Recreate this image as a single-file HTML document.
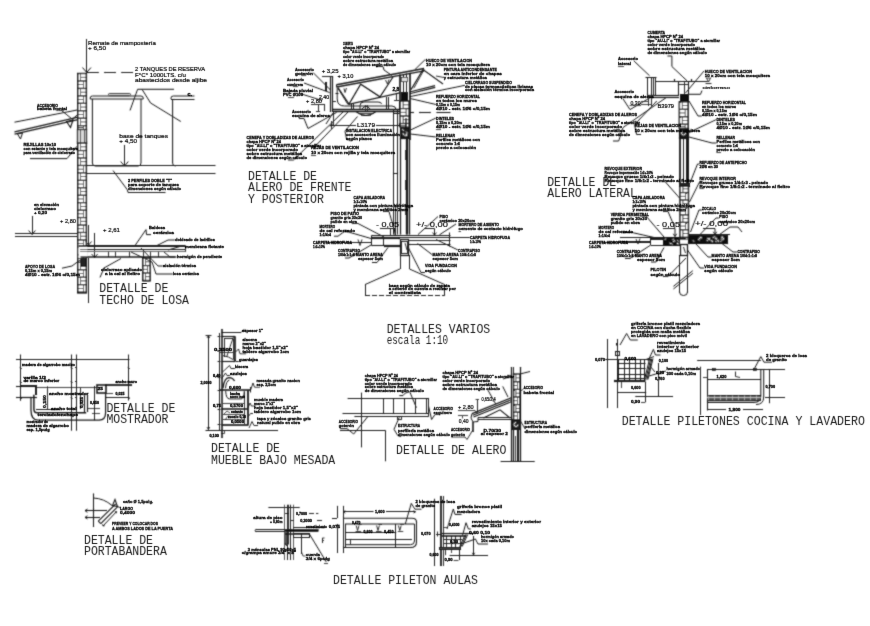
<!DOCTYPE html>
<html><head><meta charset="utf-8"><title>Detalles varios</title>
<style>
html,body{margin:0;padding:0;background:#fff;}
body{width:870px;height:626px;overflow:hidden;font-family:"Liberation Sans",sans-serif;}
svg{display:block;}
text{stroke:#000 !important;stroke-width:0.3px;fill:#000;}

text.s{font-family:"Liberation Sans",sans-serif;font-weight:bold;}
text.r{font-family:"Liberation Sans",sans-serif;font-weight:normal;stroke-width:0.2px !important;}
text.m{font-family:"Liberation Sans",sans-serif;font-weight:normal;stroke-width:0.15px !important;}
text.t{font-family:"Liberation Mono",monospace;font-size:12px;fill:#1c1c1c;stroke-width:0.01px !important;}
</style></head>
<body>
<svg width="870" height="626" viewBox="0 0 870 626" fill="none" stroke="#1a1a1a" stroke-linecap="butt">
<defs><filter id="bl" x="0" y="0" width="870" height="626" filterUnits="userSpaceOnUse"><feConvolveMatrix order="3" kernelMatrix="1 3 1 3 14 3 1 3 1" divisor="30" edgeMode="duplicate" preserveAlpha="false"/></filter><filter id="bt" x="0" y="0" width="870" height="626" filterUnits="userSpaceOnUse"><feConvolveMatrix order="3" kernelMatrix="0 1 0 1 14 1 0 1 0" divisor="18" edgeMode="duplicate" preserveAlpha="false"/></filter></defs>
<rect x="0" y="0" width="870" height="626" fill="#ffffff" style="stroke:none"/>
<g filter="url(#bl)">
<line x1="86.5" y1="39.0" x2="86.5" y2="72.5" stroke-width="1"/>
<polyline points="82.5,67.5 86.7,72.5 91.0,67.5" stroke-width="1" fill="none"/>
<line x1="87.0" y1="72.5" x2="134.0" y2="72.5" stroke-width="1.2" stroke-dasharray="11.8 5.3"/>
<rect x="77.6" y="73.4" width="8.9" height="56.1" stroke-width="1.2" fill="#111"/>
<rect x="78.5" y="74.2" width="1.8" height="6.2" rx="0" stroke-width="0.01" fill="#ffffff"/>
<rect x="81.0" y="74.2" width="4.6" height="2.7" rx="0" stroke-width="0.01" fill="#ffffff"/>
<rect x="81.0" y="77.6" width="4.6" height="2.7" rx="0" stroke-width="0.01" fill="#ffffff"/>
<rect x="83.8" y="81.6" width="1.8" height="6.2" rx="0" stroke-width="0.01" fill="#ffffff"/>
<rect x="78.5" y="81.6" width="4.6" height="2.7" rx="0" stroke-width="0.01" fill="#ffffff"/>
<rect x="78.5" y="85.0" width="4.6" height="2.7" rx="0" stroke-width="0.01" fill="#ffffff"/>
<rect x="78.5" y="89.1" width="1.8" height="6.2" rx="0" stroke-width="0.01" fill="#ffffff"/>
<rect x="81.0" y="89.1" width="4.6" height="2.7" rx="0" stroke-width="0.01" fill="#ffffff"/>
<rect x="81.0" y="92.5" width="4.6" height="2.7" rx="0" stroke-width="0.01" fill="#ffffff"/>
<rect x="83.8" y="96.5" width="1.8" height="6.2" rx="0" stroke-width="0.01" fill="#ffffff"/>
<rect x="78.5" y="96.5" width="4.6" height="2.7" rx="0" stroke-width="0.01" fill="#ffffff"/>
<rect x="78.5" y="99.9" width="4.6" height="2.7" rx="0" stroke-width="0.01" fill="#ffffff"/>
<rect x="78.5" y="104.0" width="1.8" height="6.2" rx="0" stroke-width="0.01" fill="#ffffff"/>
<rect x="81.0" y="104.0" width="4.6" height="2.7" rx="0" stroke-width="0.01" fill="#ffffff"/>
<rect x="81.0" y="107.4" width="4.6" height="2.7" rx="0" stroke-width="0.01" fill="#ffffff"/>
<rect x="83.8" y="111.4" width="1.8" height="6.2" rx="0" stroke-width="0.01" fill="#ffffff"/>
<rect x="78.5" y="111.4" width="4.6" height="2.7" rx="0" stroke-width="0.01" fill="#ffffff"/>
<rect x="78.5" y="114.8" width="4.6" height="2.7" rx="0" stroke-width="0.01" fill="#ffffff"/>
<rect x="78.5" y="118.9" width="1.8" height="6.2" rx="0" stroke-width="0.01" fill="#ffffff"/>
<rect x="81.0" y="118.9" width="4.6" height="2.7" rx="0" stroke-width="0.01" fill="#ffffff"/>
<rect x="81.0" y="122.3" width="4.6" height="2.7" rx="0" stroke-width="0.01" fill="#ffffff"/>
<rect x="83.8" y="126.3" width="1.8" height="2.7" rx="0" stroke-width="0.01" fill="#ffffff"/>
<rect x="78.5" y="126.3" width="4.6" height="0.9" rx="0" stroke-width="0.01" fill="#ffffff"/>
<rect x="78.5" y="128.0" width="4.6" height="0.9" rx="0" stroke-width="0.01" fill="#ffffff"/>
<rect x="77.5" y="129.5" width="9.0" height="14.0" rx="0" stroke-width="1.3" fill="#d8d8d8"/>
<line x1="80.5" y1="129.5" x2="80.5" y2="143.0" stroke-width="0.8"/>
<line x1="84.5" y1="129.5" x2="84.5" y2="143.0" stroke-width="0.8"/>
<rect x="77.6" y="143.0" width="8.9" height="150.0" stroke-width="1.2" fill="#111"/>
<rect x="78.5" y="143.8" width="1.8" height="6.2" rx="0" stroke-width="0.01" fill="#ffffff"/>
<rect x="81.0" y="143.8" width="4.6" height="2.7" rx="0" stroke-width="0.01" fill="#ffffff"/>
<rect x="81.0" y="147.2" width="4.6" height="2.7" rx="0" stroke-width="0.01" fill="#ffffff"/>
<rect x="83.8" y="151.2" width="1.8" height="6.2" rx="0" stroke-width="0.01" fill="#ffffff"/>
<rect x="78.5" y="151.2" width="4.6" height="2.7" rx="0" stroke-width="0.01" fill="#ffffff"/>
<rect x="78.5" y="154.6" width="4.6" height="2.7" rx="0" stroke-width="0.01" fill="#ffffff"/>
<rect x="78.5" y="158.6" width="1.8" height="6.2" rx="0" stroke-width="0.01" fill="#ffffff"/>
<rect x="81.0" y="158.6" width="4.6" height="2.7" rx="0" stroke-width="0.01" fill="#ffffff"/>
<rect x="81.0" y="162.1" width="4.6" height="2.7" rx="0" stroke-width="0.01" fill="#ffffff"/>
<rect x="83.8" y="166.1" width="1.8" height="6.2" rx="0" stroke-width="0.01" fill="#ffffff"/>
<rect x="78.5" y="166.1" width="4.6" height="2.7" rx="0" stroke-width="0.01" fill="#ffffff"/>
<rect x="78.5" y="169.5" width="4.6" height="2.7" rx="0" stroke-width="0.01" fill="#ffffff"/>
<rect x="78.5" y="173.5" width="1.8" height="6.2" rx="0" stroke-width="0.01" fill="#ffffff"/>
<rect x="81.0" y="173.5" width="4.6" height="2.7" rx="0" stroke-width="0.01" fill="#ffffff"/>
<rect x="81.0" y="177.0" width="4.6" height="2.7" rx="0" stroke-width="0.01" fill="#ffffff"/>
<rect x="83.8" y="181.0" width="1.8" height="6.2" rx="0" stroke-width="0.01" fill="#ffffff"/>
<rect x="78.5" y="181.0" width="4.6" height="2.7" rx="0" stroke-width="0.01" fill="#ffffff"/>
<rect x="78.5" y="184.4" width="4.6" height="2.7" rx="0" stroke-width="0.01" fill="#ffffff"/>
<rect x="78.5" y="188.4" width="1.8" height="6.2" rx="0" stroke-width="0.01" fill="#ffffff"/>
<rect x="81.0" y="188.4" width="4.6" height="2.7" rx="0" stroke-width="0.01" fill="#ffffff"/>
<rect x="81.0" y="191.9" width="4.6" height="2.7" rx="0" stroke-width="0.01" fill="#ffffff"/>
<rect x="83.8" y="195.9" width="1.8" height="6.2" rx="0" stroke-width="0.01" fill="#ffffff"/>
<rect x="78.5" y="195.9" width="4.6" height="2.7" rx="0" stroke-width="0.01" fill="#ffffff"/>
<rect x="78.5" y="199.3" width="4.6" height="2.7" rx="0" stroke-width="0.01" fill="#ffffff"/>
<rect x="78.5" y="203.3" width="1.8" height="6.2" rx="0" stroke-width="0.01" fill="#ffffff"/>
<rect x="81.0" y="203.3" width="4.6" height="2.7" rx="0" stroke-width="0.01" fill="#ffffff"/>
<rect x="81.0" y="206.8" width="4.6" height="2.7" rx="0" stroke-width="0.01" fill="#ffffff"/>
<rect x="83.8" y="210.8" width="1.8" height="6.2" rx="0" stroke-width="0.01" fill="#ffffff"/>
<rect x="78.5" y="210.8" width="4.6" height="2.7" rx="0" stroke-width="0.01" fill="#ffffff"/>
<rect x="78.5" y="214.2" width="4.6" height="2.7" rx="0" stroke-width="0.01" fill="#ffffff"/>
<rect x="78.5" y="218.2" width="1.8" height="6.2" rx="0" stroke-width="0.01" fill="#ffffff"/>
<rect x="81.0" y="218.2" width="4.6" height="2.7" rx="0" stroke-width="0.01" fill="#ffffff"/>
<rect x="81.0" y="221.7" width="4.6" height="2.7" rx="0" stroke-width="0.01" fill="#ffffff"/>
<rect x="83.8" y="225.7" width="1.8" height="6.2" rx="0" stroke-width="0.01" fill="#ffffff"/>
<rect x="78.5" y="225.7" width="4.6" height="2.7" rx="0" stroke-width="0.01" fill="#ffffff"/>
<rect x="78.5" y="229.1" width="4.6" height="2.7" rx="0" stroke-width="0.01" fill="#ffffff"/>
<rect x="78.5" y="233.1" width="1.8" height="6.2" rx="0" stroke-width="0.01" fill="#ffffff"/>
<rect x="81.0" y="233.1" width="4.6" height="2.7" rx="0" stroke-width="0.01" fill="#ffffff"/>
<rect x="81.0" y="236.6" width="4.6" height="2.7" rx="0" stroke-width="0.01" fill="#ffffff"/>
<rect x="83.8" y="240.6" width="1.8" height="6.2" rx="0" stroke-width="0.01" fill="#ffffff"/>
<rect x="78.5" y="240.6" width="4.6" height="2.7" rx="0" stroke-width="0.01" fill="#ffffff"/>
<rect x="78.5" y="244.0" width="4.6" height="2.7" rx="0" stroke-width="0.01" fill="#ffffff"/>
<rect x="78.5" y="248.0" width="1.8" height="6.2" rx="0" stroke-width="0.01" fill="#ffffff"/>
<rect x="81.0" y="248.0" width="4.6" height="2.7" rx="0" stroke-width="0.01" fill="#ffffff"/>
<rect x="81.0" y="251.5" width="4.6" height="2.7" rx="0" stroke-width="0.01" fill="#ffffff"/>
<rect x="83.8" y="255.5" width="1.8" height="6.2" rx="0" stroke-width="0.01" fill="#ffffff"/>
<rect x="78.5" y="255.5" width="4.6" height="2.7" rx="0" stroke-width="0.01" fill="#ffffff"/>
<rect x="78.5" y="258.9" width="4.6" height="2.7" rx="0" stroke-width="0.01" fill="#ffffff"/>
<rect x="78.5" y="262.9" width="1.8" height="6.2" rx="0" stroke-width="0.01" fill="#ffffff"/>
<rect x="81.0" y="262.9" width="4.6" height="2.7" rx="0" stroke-width="0.01" fill="#ffffff"/>
<rect x="81.0" y="266.4" width="4.6" height="2.7" rx="0" stroke-width="0.01" fill="#ffffff"/>
<rect x="83.8" y="270.4" width="1.8" height="6.2" rx="0" stroke-width="0.01" fill="#ffffff"/>
<rect x="78.5" y="270.4" width="4.6" height="2.7" rx="0" stroke-width="0.01" fill="#ffffff"/>
<rect x="78.5" y="273.8" width="4.6" height="2.7" rx="0" stroke-width="0.01" fill="#ffffff"/>
<rect x="78.5" y="277.8" width="1.8" height="6.2" rx="0" stroke-width="0.01" fill="#ffffff"/>
<rect x="81.0" y="277.8" width="4.6" height="2.7" rx="0" stroke-width="0.01" fill="#ffffff"/>
<rect x="81.0" y="281.3" width="4.6" height="2.7" rx="0" stroke-width="0.01" fill="#ffffff"/>
<rect x="83.8" y="285.3" width="1.8" height="6.2" rx="0" stroke-width="0.01" fill="#ffffff"/>
<rect x="78.5" y="285.3" width="4.6" height="2.7" rx="0" stroke-width="0.01" fill="#ffffff"/>
<rect x="78.5" y="288.7" width="4.6" height="2.7" rx="0" stroke-width="0.01" fill="#ffffff"/>
<rect x="78.5" y="292.7" width="1.8" height="-0.2" rx="0" stroke-width="0.01" fill="#ffffff"/>
<line x1="14.5" y1="122.2" x2="77.2" y2="110.0" stroke-width="1"/>
<line x1="14.5" y1="131.8" x2="78.0" y2="117.2" stroke-width="1.2"/>
<line x1="14.5" y1="134.2" x2="78.0" y2="119.6" stroke-width="1.2"/>
<polygon points="17.5,134.0 22.5,133.0 20.5,139.0" stroke-width="1" fill="none"/>
<polygon points="66.5,121.5 73.0,120.0 70.5,127.5" stroke-width="1.2" fill="none"/>
<line x1="72.5" y1="119.0" x2="77.2" y2="115.0" stroke-width="1"/>
<line x1="56.0" y1="110.5" x2="64.0" y2="110.5" stroke-width="0.8"/>
<line x1="61.5" y1="110.5" x2="72.7" y2="119.5" stroke-width="1"/>
<polyline points="30.0,158.6 67.0,158.6 77.0,146.3" stroke-width="1" fill="none"/>
<path d="M90.2,99 L90.2,98 Q90.2,96 92.5,96 L141,96 Q143.2,96 143.2,98 L143.2,99 Z" stroke-width="1" fill="none"/>
<path d="M92.4,99 L92.4,163 Q92.4,166 95.4,166 L138,166 Q141,166 141,163 L141,99" stroke-width="1" fill="none"/>
<rect x="108.5" y="93.5" width="22.0" height="2.0" rx="1" stroke-width="1" fill="#ccc"/>
<path d="M171,99 L171,98 Q171,96 173.3,96 L194.5,96" stroke-width="1" fill="none"/>
<line x1="171.0" y1="99.5" x2="194.5" y2="99.5" stroke-width="1"/>
<path d="M172.6,99 L172.6,163 Q172.6,166 175.6,166" stroke-width="1" fill="none"/>
<polyline points="174.0,89.3 137.6,89.3 130.0,110.5" stroke-width="1" fill="none"/>
<polyline points="142.0,89.3 150.6,103.0 180.8,121.5" stroke-width="1" fill="none"/>
<line x1="124.5" y1="145.0" x2="124.5" y2="166.0" stroke-width="1"/>
<polyline points="120.7,161.5 124.5,166.0 128.3,161.5" stroke-width="1" fill="none"/>
<line x1="87.0" y1="165.5" x2="215.5" y2="165.5" stroke-width="1"/>
<line x1="87.0" y1="173.5" x2="215.5" y2="173.5" stroke-width="1"/>
<polyline points="113.0,170.5 127.5,190.0 128.0,192.5 165.5,192.5" stroke-width="1" fill="none"/>
<line x1="32.5" y1="216.0" x2="32.5" y2="234.5" stroke-width="1"/>
<polyline points="28.6,230.5 32.0,234.5 35.4,230.5" stroke-width="1" fill="none"/>
<line x1="15.0" y1="233.5" x2="77.0" y2="233.5" stroke-width="1"/>
<line x1="15.0" y1="236.5" x2="77.0" y2="236.5" stroke-width="1"/>
<line x1="88.5" y1="225.0" x2="88.5" y2="245.0" stroke-width="1"/>
<polyline points="85.6,241.5 88.6,245.0 91.6,241.5" stroke-width="1" fill="none"/>
<line x1="94.5" y1="233.0" x2="94.5" y2="257.5" stroke-width="1"/>
<polyline points="91.6,254.0 94.6,257.5 97.6,254.0" stroke-width="1" fill="none"/>
<rect x="78.6" y="245.5" width="8.5" height="12.0" rx="0" stroke-width="0.01" fill="#fff"/>
<line x1="78.6" y1="246.0" x2="185.0" y2="246.0" stroke-width="2"/>
<line x1="80.0" y1="249.5" x2="185.0" y2="249.5" stroke-width="1"/>
<line x1="80.0" y1="251.5" x2="185.0" y2="251.5" stroke-width="1" stroke="#666"/>
<line x1="80.5" y1="257.0" x2="175.3" y2="257.0" stroke-width="1.7"/>
<line x1="185.5" y1="245.5" x2="185.5" y2="252.0" stroke-width="0.9"/>
<line x1="108.5" y1="251.7" x2="108.5" y2="257.0" stroke-width="0.9"/>
<line x1="115.5" y1="251.7" x2="115.5" y2="257.0" stroke-width="0.9"/>
<line x1="129.5" y1="251.7" x2="129.5" y2="257.0" stroke-width="0.9"/>
<line x1="143.5" y1="251.7" x2="143.5" y2="257.0" stroke-width="0.9"/>
<line x1="150.5" y1="251.7" x2="150.5" y2="257.0" stroke-width="0.9"/>
<line x1="158.5" y1="251.7" x2="158.5" y2="257.0" stroke-width="0.9"/>
<rect x="80.5" y="258.5" width="5.0" height="8.0" rx="0" stroke-width="1" fill="#222"/>
<rect x="142.7" y="258.0" width="7.5" height="23.0" stroke-width="1.2" fill="#111"/>
<rect x="143.6" y="258.8" width="1.5" height="6.2" rx="0" stroke-width="0.01" fill="#ffffff"/>
<rect x="145.9" y="258.8" width="3.4" height="2.7" rx="0" stroke-width="0.01" fill="#ffffff"/>
<rect x="145.9" y="262.2" width="3.4" height="2.7" rx="0" stroke-width="0.01" fill="#ffffff"/>
<rect x="147.8" y="266.2" width="1.5" height="6.2" rx="0" stroke-width="0.01" fill="#ffffff"/>
<rect x="143.6" y="266.2" width="3.4" height="2.7" rx="0" stroke-width="0.01" fill="#ffffff"/>
<rect x="143.6" y="269.6" width="3.4" height="2.7" rx="0" stroke-width="0.01" fill="#ffffff"/>
<rect x="143.6" y="273.6" width="1.5" height="6.2" rx="0" stroke-width="0.01" fill="#ffffff"/>
<rect x="145.9" y="273.6" width="3.4" height="2.7" rx="0" stroke-width="0.01" fill="#ffffff"/>
<rect x="145.9" y="277.1" width="3.4" height="2.7" rx="0" stroke-width="0.01" fill="#ffffff"/>
<line x1="88.5" y1="258.0" x2="88.5" y2="303.0" stroke-width="1"/>
<polyline points="151.0,234.6 146.5,234.6 146.0,229.6 135.2,245.3" stroke-width="1" fill="none"/>
<polyline points="175.0,240.0 168.0,240.0 156.0,246.0" stroke-width="1" fill="none"/>
<polyline points="185.0,246.5 180.0,246.5 168.0,250.0" stroke-width="1" fill="none"/>
<polyline points="177.0,257.0 170.0,257.0 164.0,252.0" stroke-width="1" fill="none"/>
<polyline points="163.0,266.0 158.0,266.0 141.0,248.0" stroke-width="1" fill="none"/>
<polyline points="173.0,274.0 156.0,274.0 152.0,262.0 131.0,252.0" stroke-width="1" fill="none"/>
<polyline points="62.0,268.2 72.0,266.0 80.0,260.0" stroke-width="1" fill="none"/>
<polyline points="100.0,277.5 104.0,268.0 121.0,258.5" stroke-width="1" fill="none"/>
<polyline points="376.0,66.5 383.0,66.5 384.0,70.0 392.0,75.5" stroke-width="1" fill="none"/>
<line x1="336.5" y1="84.7" x2="424.0" y2="68.6" stroke-width="1.5"/>
<line x1="336.7" y1="87.0" x2="424.2" y2="70.9" stroke-width="1.4"/>
<line x1="336.5" y1="84.7" x2="336.7" y2="87.5" stroke-width="1"/>
<line x1="348.6" y1="104.3" x2="399.8" y2="92.8" stroke-width="1.2"/>
<polyline points="338.0,87.5 349.0,104.0 360.7,84.2 380.0,96.8 393.0,77.0" stroke-width="1.2" fill="none"/>
<line x1="338.0" y1="88.5" x2="348.0" y2="104.5" stroke-width="1"/>
<polyline points="344.0,88.5 345.0,92.5 346.5,88.0" stroke-width="0.9" fill="none"/>
<polyline points="385.5,80.0 387.5,84.0 389.0,79.5" stroke-width="0.9" fill="none"/>
<line x1="333.0" y1="109.5" x2="400.0" y2="109.5" stroke-width="1.3"/>
<line x1="333.0" y1="111.5" x2="400.0" y2="111.5" stroke-width="1.3"/>
<line x1="330.5" y1="76.0" x2="330.5" y2="112.0" stroke-width="1.2"/>
<line x1="332.5" y1="76.0" x2="332.5" y2="112.0" stroke-width="1.2"/>
<line x1="325.5" y1="82.0" x2="325.5" y2="91.0" stroke-width="1"/>
<line x1="326.5" y1="82.0" x2="326.5" y2="91.0" stroke-width="1"/>
<line x1="322.0" y1="76.5" x2="333.0" y2="76.5" stroke-width="0.9"/>
<line x1="335.5" y1="93.5" x2="338.5" y2="93.5" stroke-width="1"/>
<line x1="333.0" y1="101.5" x2="336.0" y2="101.5" stroke-width="0.9"/>
<path d="M337.2,88 L337.2,99 Q337.2,106 344.5,106 L392,106 Q396,106 396,110" stroke-width="1" fill="none"/>
<path d="M360,109 L360,105.5 Q360,102 364,102 L378,102 Q381.5,102 381.5,104" stroke-width="1" fill="none"/>
<line x1="351.5" y1="104.0" x2="351.5" y2="109.0" stroke-width="1"/>
<line x1="353.5" y1="104.0" x2="353.5" y2="109.0" stroke-width="1"/>
<line x1="386.5" y1="97.0" x2="386.5" y2="109.0" stroke-width="1"/>
<line x1="388.5" y1="97.0" x2="388.5" y2="109.0" stroke-width="1"/>
<path d="M356,111.5 Q366,119.5 375.8,111.5" stroke-width="1.2" fill="none"/>
<path d="M358.5,113.5 L373.5,113.5" stroke-width="0.8" fill="none"/>
<path d="M361,115.3 L371,115.3" stroke-width="0.8" fill="none"/>
<path d="M362,109 Q366,103.5 370,109" stroke-width="1" fill="none"/>
<line x1="365.5" y1="105.0" x2="365.5" y2="112.0" stroke-width="0.8"/>
<line x1="367.5" y1="105.0" x2="367.5" y2="112.0" stroke-width="0.8"/>
<line x1="330.0" y1="125.5" x2="356.0" y2="125.5" stroke-width="1"/>
<line x1="376.0" y1="125.5" x2="400.0" y2="125.5" stroke-width="1"/>
<line x1="331.5" y1="121.0" x2="331.5" y2="129.0" stroke-width="0.9"/>
<line x1="333.0" y1="123.5" x2="330.0" y2="126.5" stroke-width="1"/>
<polyline points="399.0,123.5 400.5,125.0 399.0,126.5" stroke-width="1.2" fill="none"/>
<line x1="400.0" y1="74.5" x2="400.0" y2="110.0" stroke-width="1.7"/>
<line x1="410.0" y1="72.8" x2="410.0" y2="140.0" stroke-width="1.7"/>
<line x1="403.5" y1="74.0" x2="403.5" y2="92.0" stroke-width="1"/>
<line x1="406.5" y1="73.5" x2="406.5" y2="92.0" stroke-width="1"/>
<rect x="401.5" y="77.5" width="6.0" height="4.0" rx="0" stroke-width="0.8" fill="#ddd"/>
<rect x="401.5" y="92.5" width="6.0" height="8.0" rx="0" stroke-width="1" fill="#111"/>
<rect x="400.0" y="101.0" width="9.2" height="26.0" stroke-width="1.2" fill="#111"/>
<rect x="400.9" y="101.8" width="1.8" height="6.2" rx="0" stroke-width="0.01" fill="#ffffff"/>
<rect x="403.5" y="101.8" width="4.8" height="2.7" rx="0" stroke-width="0.01" fill="#ffffff"/>
<rect x="403.5" y="105.2" width="4.8" height="2.7" rx="0" stroke-width="0.01" fill="#ffffff"/>
<rect x="406.5" y="109.2" width="1.8" height="6.2" rx="0" stroke-width="0.01" fill="#ffffff"/>
<rect x="400.9" y="109.2" width="4.8" height="2.7" rx="0" stroke-width="0.01" fill="#ffffff"/>
<rect x="400.9" y="112.6" width="4.8" height="2.7" rx="0" stroke-width="0.01" fill="#ffffff"/>
<rect x="400.9" y="116.7" width="1.8" height="6.2" rx="0" stroke-width="0.01" fill="#ffffff"/>
<rect x="403.5" y="116.7" width="4.8" height="2.7" rx="0" stroke-width="0.01" fill="#ffffff"/>
<rect x="403.5" y="120.1" width="4.8" height="2.7" rx="0" stroke-width="0.01" fill="#ffffff"/>
<rect x="406.5" y="124.1" width="1.8" height="2.4" rx="0" stroke-width="0.01" fill="#ffffff"/>
<rect x="400.9" y="124.1" width="4.8" height="0.8" rx="0" stroke-width="0.01" fill="#ffffff"/>
<rect x="400.9" y="125.6" width="4.8" height="0.8" rx="0" stroke-width="0.01" fill="#ffffff"/>
<rect x="400.5" y="127.5" width="9.0" height="11.0" rx="0" stroke-width="1.2" fill="#1a1a1a"/>
<path d="M403,133 a2,2 0 1,0 3,-1.5" stroke-width="0.9" fill="none" stroke="#fff"/>
<line x1="402.0" y1="129.5" x2="404.0" y2="130.5" stroke-width="0.8" stroke="#fff"/>
<line x1="405.5" y1="136.0" x2="407.5" y2="135.0" stroke-width="0.8" stroke="#fff"/>
<line x1="400.5" y1="138.3" x2="400.5" y2="234.5" stroke-width="1.3"/>
<line x1="406.5" y1="138.3" x2="406.5" y2="234.5" stroke-width="1.3"/>
<line x1="407.5" y1="138.3" x2="407.5" y2="234.5" stroke-width="1.3"/>
<line x1="409.5" y1="138.3" x2="409.5" y2="234.5" stroke-width="1.3"/>
<line x1="393.5" y1="110.0" x2="393.5" y2="234.5" stroke-width="1"/>
<line x1="397.5" y1="110.0" x2="397.5" y2="234.5" stroke-width="1"/>
<line x1="393.6" y1="113.5" x2="399.6" y2="113.5" stroke-width="1"/>
<line x1="406.0" y1="118.0" x2="406.0" y2="128.0" stroke-width="1.6"/>
<line x1="406.0" y1="150.0" x2="406.0" y2="160.0" stroke-width="1.6"/>
<line x1="406.0" y1="180.0" x2="406.0" y2="190.0" stroke-width="1.6"/>
<line x1="406.0" y1="205.0" x2="406.0" y2="215.0" stroke-width="1.6"/>
<line x1="393.6" y1="173.5" x2="397.2" y2="173.5" stroke-width="1"/>
<line x1="409.6" y1="112.5" x2="413.9" y2="112.5" stroke-width="1.1"/>
<line x1="419.1" y1="112.5" x2="430.8" y2="112.5" stroke-width="1.1"/>
<line x1="436.4" y1="112.5" x2="450.5" y2="112.5" stroke-width="1.1"/>
<line x1="396.5" y1="93.5" x2="396.5" y2="100.5" stroke-width="0.9"/>
<line x1="394.0" y1="100.5" x2="399.0" y2="100.5" stroke-width="0.9"/>
<polyline points="411.0,89.6 423.0,69.6 443.0,84.0" stroke-width="1.1" fill="none"/>
<line x1="424.2" y1="69.5" x2="413.8" y2="88.2" stroke-width="0.9"/>
<line x1="409.6" y1="92.0" x2="435.0" y2="85.6" stroke-width="1.1"/>
<line x1="409.8" y1="93.8" x2="435.2" y2="87.4" stroke-width="1.1"/>
<line x1="465.0" y1="85.3" x2="409.6" y2="96.7" stroke-width="1"/>
<line x1="436.0" y1="104.5" x2="410.5" y2="98.6" stroke-width="1"/>
<line x1="436.0" y1="118.0" x2="410.5" y2="130.0" stroke-width="1"/>
<line x1="436.0" y1="137.0" x2="410.5" y2="134.0" stroke-width="1"/>
<polyline points="426.0,60.0 424.5,60.2 415.0,69.5" stroke-width="1" fill="none"/>
<line x1="444.0" y1="77.5" x2="436.0" y2="76.0" stroke-width="0.9"/>
<line x1="436.0" y1="129.5" x2="441.0" y2="129.5" stroke-width="0.8"/>
<line x1="313.0" y1="72.5" x2="330.5" y2="90.0" stroke-width="1"/>
<line x1="304.0" y1="83.0" x2="329.5" y2="92.5" stroke-width="1"/>
<line x1="300.0" y1="93.5" x2="322.0" y2="100.5" stroke-width="1"/>
<line x1="301.0" y1="75.5" x2="306.0" y2="75.5" stroke-width="0.8"/>
<line x1="293.0" y1="86.5" x2="298.0" y2="86.5" stroke-width="0.8"/>
<line x1="288.0" y1="97.5" x2="294.0" y2="97.5" stroke-width="0.8"/>
<line x1="311.0" y1="104.5" x2="325.0" y2="104.5" stroke-width="0.9"/>
<line x1="318.5" y1="104.5" x2="318.5" y2="111.0" stroke-width="0.9"/>
<line x1="324.5" y1="104.5" x2="324.5" y2="111.0" stroke-width="0.9"/>
<line x1="316.0" y1="111.5" x2="320.0" y2="111.5" stroke-width="0.9"/>
<polyline points="299.0,118.5 304.0,118.5 308.0,128.5 336.5,112.5" stroke-width="1" fill="none"/>
<polyline points="343.0,112.0 293.5,160.0 288.0,160.0" stroke-width="1" fill="none"/>
<polyline points="348.0,112.0 313.5,148.0" stroke-width="1" fill="none"/>
<line x1="333.0" y1="113.0" x2="326.0" y2="124.0" stroke-width="1"/>
<line x1="333.5" y1="112.0" x2="333.5" y2="126.0" stroke-width="0.9"/>
<polyline points="357.5,116.5 345.0,131.0 346.5,139.0 351.0,141.0" stroke-width="1" fill="none"/>
<line x1="311.0" y1="155.5" x2="316.0" y2="155.5" stroke-width="0.8"/>
<line x1="371.4" y1="235.5" x2="450.5" y2="235.5" stroke-width="1.1"/>
<line x1="371.4" y1="238.0" x2="400.0" y2="238.0" stroke-width="2.2"/>
<line x1="400.0" y1="237.5" x2="450.5" y2="237.5" stroke-width="1"/>
<line x1="409.0" y1="240.5" x2="450.5" y2="240.5" stroke-width="0.9"/>
<line x1="371.4" y1="245.5" x2="400.0" y2="245.5" stroke-width="1.1"/>
<line x1="409.0" y1="244.5" x2="450.5" y2="244.5" stroke-width="1.1"/>
<line x1="371.5" y1="235.5" x2="371.5" y2="245.5" stroke-width="1"/>
<line x1="383.5" y1="238.0" x2="383.5" y2="245.5" stroke-width="1"/>
<line x1="384.0" y1="246.0" x2="400.0" y2="246.0" stroke-width="2.2"/>
<line x1="449.5" y1="232.5" x2="449.5" y2="246.5" stroke-width="1"/>
<line x1="446.5" y1="237.5" x2="452.5" y2="237.5" stroke-width="1"/>
<line x1="450.5" y1="237.5" x2="470.0" y2="237.5" stroke-width="1"/>
<rect x="400.5" y="239.5" width="8.0" height="16.0" rx="0" stroke-width="1.3" fill="none"/>
<rect x="401.5" y="241.5" width="6.0" height="12.0" rx="0" stroke-width="0.9" fill="none"/>
<line x1="405.0" y1="243.0" x2="407.0" y2="250.0" stroke-width="0.9"/>
<polyline points="380.0,228.5 395.0,228.5 395.0,235.0" stroke-width="1" fill="none"/>
<line x1="390.5" y1="228.5" x2="390.5" y2="235.0" stroke-width="0.9"/>
<polyline points="424.0,228.5 434.5,228.5 434.5,235.0" stroke-width="1" fill="none"/>
<polyline points="432.5,232.5 434.5,235.0 436.5,232.5" stroke-width="0.9" fill="none"/>
<line x1="395.5" y1="205.0" x2="395.5" y2="235.0" stroke-width="0.9"/>
<line x1="400.5" y1="255.0" x2="400.5" y2="269.0" stroke-width="1"/>
<line x1="409.5" y1="255.0" x2="409.5" y2="269.0" stroke-width="1"/>
<line x1="400.0" y1="269.0" x2="365.0" y2="284.6" stroke-width="1"/>
<line x1="409.5" y1="269.0" x2="444.7" y2="284.6" stroke-width="1"/>
<line x1="365.5" y1="284.6" x2="365.5" y2="295.7" stroke-width="1"/>
<line x1="444.5" y1="284.6" x2="444.5" y2="295.7" stroke-width="1"/>
<line x1="365.0" y1="295.5" x2="444.7" y2="295.5" stroke-width="1" stroke-dasharray="5 2"/>
<polyline points="383.0,211.5 389.0,211.5 395.5,234.0" stroke-width="1" fill="none"/>
<polyline points="352.0,223.5 358.0,223.5 384.0,237.0" stroke-width="1" fill="none"/>
<polyline points="334.0,236.2 338.0,236.2 345.0,231.0 371.0,238.5" stroke-width="1" fill="none"/>
<line x1="325.0" y1="242.5" x2="372.0" y2="242.5" stroke-width="1"/>
<polyline points="358.0,239.5 360.0,245.5 362.0,239.5" stroke-width="0.9" fill="none"/>
<polyline points="345.0,258.0 349.0,258.0 371.0,245.0" stroke-width="1" fill="none"/>
<polyline points="372.0,262.5 377.0,262.5 388.0,247.5" stroke-width="1" fill="none"/>
<line x1="438.0" y1="216.5" x2="418.0" y2="234.5" stroke-width="1"/>
<polyline points="456.0,224.0 439.5,234.8" stroke-width="1" fill="none"/>
<polyline points="458.5,231.5 461.0,231.5" stroke-width="0.8" fill="none"/>
<line x1="458.0" y1="250.0" x2="436.0" y2="239.5" stroke-width="1"/>
<line x1="432.6" y1="255.0" x2="417.5" y2="243.5" stroke-width="1"/>
<polyline points="425.0,272.5 421.0,272.5 407.5,246.0" stroke-width="1" fill="none"/>
<line x1="618.0" y1="66.5" x2="624.0" y2="66.5" stroke-width="0.8"/>
<line x1="634.0" y1="61.0" x2="649.6" y2="75.8" stroke-width="1"/>
<polyline points="667.4,56.0 671.9,56.0 671.9,66.5 687.0,80.8" stroke-width="1" fill="none"/>
<line x1="704.0" y1="71.0" x2="685.5" y2="93.0" stroke-width="1"/>
<polygon points="706.5,78.0 710.5,78.0 708.5,82.0" stroke-width="0.9" fill="none"/>
<line x1="705.5" y1="83.5" x2="711.5" y2="83.5" stroke-width="0.9"/>
<polyline points="702.0,90.5 700.5,94.3 688.4,94.3" stroke-width="1" fill="none"/>
<line x1="655.3" y1="81.5" x2="707.8" y2="81.5" stroke-width="1.1"/>
<line x1="647.5" y1="77.2" x2="647.5" y2="96.0" stroke-width="1"/>
<line x1="651.5" y1="77.2" x2="651.5" y2="96.0" stroke-width="1"/>
<line x1="653.5" y1="77.2" x2="653.5" y2="96.0" stroke-width="1"/>
<line x1="655.5" y1="77.2" x2="655.5" y2="96.0" stroke-width="1"/>
<line x1="645.5" y1="77.5" x2="656.5" y2="77.5" stroke-width="1"/>
<line x1="647.4" y1="95.5" x2="679.0" y2="95.5" stroke-width="1.2"/>
<line x1="647.4" y1="97.5" x2="679.0" y2="97.5" stroke-width="1.2"/>
<line x1="674.5" y1="79.0" x2="674.5" y2="82.0" stroke-width="1.2"/>
<line x1="691.5" y1="79.0" x2="691.5" y2="82.0" stroke-width="1.2"/>
<line x1="678.5" y1="81.3" x2="678.5" y2="95.0" stroke-width="1.1"/>
<line x1="684.5" y1="81.3" x2="684.5" y2="95.0" stroke-width="0.9"/>
<line x1="688.5" y1="81.3" x2="688.5" y2="95.0" stroke-width="1.1"/>
<line x1="678.8" y1="84.5" x2="688.0" y2="84.5" stroke-width="0.9"/>
<rect x="680.5" y="94.5" width="8.0" height="7.0" rx="0" stroke-width="1" fill="#111"/>
<rect x="679.2" y="101.7" width="9.0" height="26.6" stroke-width="1.2" fill="#111"/>
<rect x="680.1" y="102.5" width="1.8" height="6.2" rx="0" stroke-width="0.01" fill="#ffffff"/>
<rect x="682.6" y="102.5" width="4.7" height="2.7" rx="0" stroke-width="0.01" fill="#ffffff"/>
<rect x="682.6" y="105.9" width="4.7" height="2.7" rx="0" stroke-width="0.01" fill="#ffffff"/>
<rect x="685.5" y="109.9" width="1.8" height="6.2" rx="0" stroke-width="0.01" fill="#ffffff"/>
<rect x="680.1" y="109.9" width="4.7" height="2.7" rx="0" stroke-width="0.01" fill="#ffffff"/>
<rect x="680.1" y="113.3" width="4.7" height="2.7" rx="0" stroke-width="0.01" fill="#ffffff"/>
<rect x="680.1" y="117.4" width="1.8" height="6.2" rx="0" stroke-width="0.01" fill="#ffffff"/>
<rect x="682.6" y="117.4" width="4.7" height="2.7" rx="0" stroke-width="0.01" fill="#ffffff"/>
<rect x="682.6" y="120.8" width="4.7" height="2.7" rx="0" stroke-width="0.01" fill="#ffffff"/>
<rect x="685.5" y="124.8" width="1.8" height="3.0" rx="0" stroke-width="0.01" fill="#ffffff"/>
<rect x="680.1" y="124.8" width="4.7" height="1.1" rx="0" stroke-width="0.01" fill="#ffffff"/>
<rect x="680.1" y="126.6" width="4.7" height="1.1" rx="0" stroke-width="0.01" fill="#ffffff"/>
<rect x="679.5" y="128.5" width="9.0" height="10.0" rx="0" stroke-width="1.2" fill="#1a1a1a"/>
<path d="M683.5,131 a2,2 0 1,0 2,2" stroke-width="0.9" fill="none" stroke="#fff"/>
<line x1="680.0" y1="138.3" x2="680.0" y2="185.0" stroke-width="1.8"/>
<line x1="683.5" y1="138.3" x2="683.5" y2="185.0" stroke-width="1"/>
<line x1="687.0" y1="138.3" x2="687.0" y2="185.0" stroke-width="2"/>
<line x1="688.5" y1="138.3" x2="688.5" y2="185.0" stroke-width="1"/>
<polyline points="623.0,98.8 630.0,109.6 649.6,98.0" stroke-width="1" fill="none"/>
<line x1="629.5" y1="105.5" x2="641.0" y2="105.5" stroke-width="0.8"/>
<line x1="641.0" y1="101.5" x2="648.0" y2="101.5" stroke-width="0.8"/>
<line x1="641.0" y1="104.5" x2="651.0" y2="104.5" stroke-width="0.8"/>
<line x1="648.5" y1="96.0" x2="648.5" y2="106.0" stroke-width="0.9"/>
<line x1="651.5" y1="96.0" x2="651.5" y2="106.0" stroke-width="0.9"/>
<polyline points="666.0,97.7 623.0,127.5 618.7,141.0 613.0,141.0" stroke-width="1" fill="none"/>
<polyline points="656.8,101.0 634.5,124.7 636.6,134.5 641.0,134.5" stroke-width="1" fill="none"/>
<line x1="716.4" y1="152.5" x2="721.0" y2="152.5" stroke-width="0.8"/>
<polyline points="702.0,116.0 698.0,116.0 689.0,101.0" stroke-width="1" fill="none"/>
<line x1="716.4" y1="119.5" x2="689.0" y2="132.5" stroke-width="1"/>
<polyline points="716.4,143.0 712.0,143.0 689.0,137.0" stroke-width="1" fill="none"/>
<polyline points="699.5,164.0 697.5,164.0 690.0,183.0" stroke-width="1" fill="none"/>
<line x1="699.5" y1="188.5" x2="704.0" y2="188.5" stroke-width="0.8"/>
<line x1="665.0" y1="181.5" x2="679.5" y2="198.0" stroke-width="1"/>
<line x1="699.5" y1="182.0" x2="689.5" y2="202.0" stroke-width="1"/>
<rect x="679.9" y="185.0" width="8.7" height="54.0" stroke-width="1.2" fill="#111"/>
<rect x="680.8" y="185.8" width="1.7" height="6.2" rx="0" stroke-width="0.01" fill="#ffffff"/>
<rect x="683.3" y="185.8" width="4.4" height="2.7" rx="0" stroke-width="0.01" fill="#ffffff"/>
<rect x="683.3" y="189.2" width="4.4" height="2.7" rx="0" stroke-width="0.01" fill="#ffffff"/>
<rect x="686.0" y="193.2" width="1.7" height="6.2" rx="0" stroke-width="0.01" fill="#ffffff"/>
<rect x="680.8" y="193.2" width="4.4" height="2.7" rx="0" stroke-width="0.01" fill="#ffffff"/>
<rect x="680.8" y="196.6" width="4.4" height="2.7" rx="0" stroke-width="0.01" fill="#ffffff"/>
<rect x="680.8" y="200.6" width="1.7" height="6.2" rx="0" stroke-width="0.01" fill="#ffffff"/>
<rect x="683.3" y="200.6" width="4.4" height="2.7" rx="0" stroke-width="0.01" fill="#ffffff"/>
<rect x="683.3" y="204.1" width="4.4" height="2.7" rx="0" stroke-width="0.01" fill="#ffffff"/>
<rect x="686.0" y="208.1" width="1.7" height="6.2" rx="0" stroke-width="0.01" fill="#ffffff"/>
<rect x="680.8" y="208.1" width="4.4" height="2.7" rx="0" stroke-width="0.01" fill="#ffffff"/>
<rect x="680.8" y="211.5" width="4.4" height="2.7" rx="0" stroke-width="0.01" fill="#ffffff"/>
<rect x="680.8" y="215.5" width="1.7" height="6.2" rx="0" stroke-width="0.01" fill="#ffffff"/>
<rect x="683.3" y="215.5" width="4.4" height="2.7" rx="0" stroke-width="0.01" fill="#ffffff"/>
<rect x="683.3" y="219.0" width="4.4" height="2.7" rx="0" stroke-width="0.01" fill="#ffffff"/>
<rect x="686.0" y="223.0" width="1.7" height="6.2" rx="0" stroke-width="0.01" fill="#ffffff"/>
<rect x="680.8" y="223.0" width="4.4" height="2.7" rx="0" stroke-width="0.01" fill="#ffffff"/>
<rect x="680.8" y="226.4" width="4.4" height="2.7" rx="0" stroke-width="0.01" fill="#ffffff"/>
<rect x="680.8" y="230.4" width="1.7" height="6.2" rx="0" stroke-width="0.01" fill="#ffffff"/>
<rect x="683.3" y="230.4" width="4.4" height="2.7" rx="0" stroke-width="0.01" fill="#ffffff"/>
<rect x="683.3" y="233.9" width="4.4" height="2.7" rx="0" stroke-width="0.01" fill="#ffffff"/>
<rect x="686.0" y="237.9" width="1.7" height="0.7" rx="0" stroke-width="0.01" fill="#ffffff"/>
<rect x="679.5" y="183.5" width="10.0" height="3.0" rx="0" stroke-width="1" fill="#222"/>
<rect x="688.5" y="235.5" width="39.0" height="8.0" rx="0" stroke-width="1.1" fill="#111"/>
<line x1="698.1" y1="239.4" x2="699.7" y2="240.2" stroke-width="0.8" stroke="#fff"/>
<line x1="722.5" y1="239.1" x2="724.1" y2="238.3" stroke-width="0.8" stroke="#fff"/>
<line x1="711.3" y1="241.1" x2="712.9" y2="241.9" stroke-width="0.8" stroke="#fff"/>
<line x1="698.8" y1="238.1" x2="700.4" y2="238.9" stroke-width="0.8" stroke="#fff"/>
<line x1="709.0" y1="239.5" x2="710.6" y2="240.3" stroke-width="0.8" stroke="#fff"/>
<line x1="712.5" y1="237.7" x2="714.1" y2="236.9" stroke-width="0.8" stroke="#fff"/>
<line x1="720.7" y1="239.4" x2="722.3" y2="238.6" stroke-width="0.8" stroke="#fff"/>
<line x1="713.7" y1="237.3" x2="715.3" y2="236.5" stroke-width="0.8" stroke="#fff"/>
<line x1="700.3" y1="237.1" x2="701.9" y2="237.9" stroke-width="0.8" stroke="#fff"/>
<line x1="706.5" y1="240.2" x2="708.1" y2="241.0" stroke-width="0.8" stroke="#fff"/>
<line x1="715.2" y1="241.1" x2="716.8" y2="241.9" stroke-width="0.8" stroke="#fff"/>
<line x1="715.7" y1="239.6" x2="717.3" y2="238.8" stroke-width="0.8" stroke="#fff"/>
<line x1="721.1" y1="237.4" x2="722.7" y2="236.6" stroke-width="0.8" stroke="#fff"/>
<line x1="707.3" y1="238.2" x2="708.9" y2="239.0" stroke-width="0.8" stroke="#fff"/>
<line x1="717.5" y1="240.8" x2="719.1" y2="241.6" stroke-width="0.8" stroke="#fff"/>
<line x1="707.8" y1="238.7" x2="709.4" y2="239.5" stroke-width="0.8" stroke="#fff"/>
<line x1="708.7" y1="238.8" x2="710.3" y2="238.0" stroke-width="0.8" stroke="#fff"/>
<line x1="722.1" y1="240.1" x2="723.7" y2="239.3" stroke-width="0.8" stroke="#fff"/>
<line x1="720.3" y1="241.5" x2="721.9" y2="240.7" stroke-width="0.8" stroke="#fff"/>
<line x1="714.7" y1="238.5" x2="716.3" y2="237.7" stroke-width="0.8" stroke="#fff"/>
<line x1="715.2" y1="238.0" x2="716.8" y2="238.8" stroke-width="0.8" stroke="#fff"/>
<line x1="699.8" y1="237.3" x2="701.4" y2="238.1" stroke-width="0.8" stroke="#fff"/>
<line x1="692.7" y1="240.6" x2="694.3" y2="241.4" stroke-width="0.8" stroke="#fff"/>
<line x1="721.8" y1="237.1" x2="723.4" y2="237.9" stroke-width="0.8" stroke="#fff"/>
<line x1="717.2" y1="240.9" x2="718.8" y2="240.1" stroke-width="0.8" stroke="#fff"/>
<line x1="711.3" y1="240.4" x2="712.9" y2="241.2" stroke-width="0.8" stroke="#fff"/>
<line x1="689.0" y1="234.5" x2="730.0" y2="234.5" stroke-width="1.1"/>
<rect x="663.5" y="237.5" width="16.0" height="8.0" rx="0" stroke-width="1.1" fill="#111"/>
<line x1="673.8" y1="240.5" x2="675.4" y2="241.3" stroke-width="0.8" stroke="#fff"/>
<line x1="671.1" y1="243.5" x2="672.7" y2="244.3" stroke-width="0.8" stroke="#fff"/>
<line x1="664.6" y1="239.5" x2="666.2" y2="238.7" stroke-width="0.8" stroke="#fff"/>
<line x1="676.8" y1="243.4" x2="678.4" y2="244.2" stroke-width="0.8" stroke="#fff"/>
<line x1="672.4" y1="239.7" x2="674.0" y2="238.9" stroke-width="0.8" stroke="#fff"/>
<line x1="677.2" y1="240.5" x2="678.8" y2="241.3" stroke-width="0.8" stroke="#fff"/>
<line x1="677.0" y1="243.0" x2="678.6" y2="243.8" stroke-width="0.8" stroke="#fff"/>
<line x1="669.4" y1="242.9" x2="671.0" y2="243.7" stroke-width="0.8" stroke="#fff"/>
<line x1="672.9" y1="241.7" x2="674.5" y2="240.9" stroke-width="0.8" stroke="#fff"/>
<line x1="620.0" y1="237.5" x2="663.3" y2="237.5" stroke-width="1"/>
<line x1="650.5" y1="239.0" x2="663.3" y2="239.0" stroke-width="2"/>
<line x1="620.0" y1="241.5" x2="650.5" y2="241.5" stroke-width="1"/>
<line x1="650.5" y1="237.4" x2="650.5" y2="245.0" stroke-width="1"/>
<line x1="650.5" y1="245.5" x2="663.3" y2="245.5" stroke-width="1"/>
<polyline points="636.0,239.0 638.0,244.0 640.0,238.5" stroke-width="0.9" fill="none"/>
<rect x="680.5" y="244.5" width="7.0" height="11.0" rx="0" stroke-width="1.3" fill="none"/>
<line x1="683.5" y1="247.0" x2="685.5" y2="253.0" stroke-width="0.9"/>
<line x1="679.5" y1="255.0" x2="679.5" y2="292.4" stroke-width="1"/>
<line x1="687.5" y1="255.0" x2="687.5" y2="292.4" stroke-width="1"/>
<path d="M679.5,292 Q679.5,295.5 683.5,295.5 Q687.5,295.5 687.5,292" stroke-width="1" fill="none"/>
<line x1="673.4" y1="286.4" x2="692.8" y2="270.7" stroke-width="1"/>
<line x1="673.4" y1="289.0" x2="692.8" y2="273.3" stroke-width="1"/>
<polyline points="663.0,228.5 675.0,228.5 675.0,236.5" stroke-width="1" fill="none"/>
<polyline points="673.2,233.8 675.0,236.5 676.8,233.8" stroke-width="0.9" fill="none"/>
<polyline points="703.0,228.5 715.0,228.5 715.0,234.5" stroke-width="1" fill="none"/>
<polyline points="713.2,231.8 715.0,234.5 716.8,231.8" stroke-width="0.9" fill="none"/>
<polyline points="663.0,211.5 668.0,211.5 675.0,228.0" stroke-width="1" fill="none"/>
<polyline points="640.0,216.0 646.0,216.0 664.0,237.0" stroke-width="1" fill="none"/>
<polyline points="622.0,232.5 632.0,232.5 663.0,239.5" stroke-width="1" fill="none"/>
<line x1="601.0" y1="242.5" x2="650.5" y2="242.5" stroke-width="1"/>
<polyline points="625.0,258.5 630.0,258.5 650.0,245.5" stroke-width="1" fill="none"/>
<polyline points="651.0,262.0 656.0,262.0 664.0,247.5" stroke-width="1" fill="none"/>
<polyline points="663.0,276.5 668.0,276.5 686.0,258.0" stroke-width="1" fill="none"/>
<polyline points="702.0,210.0 699.0,210.0 690.5,232.0" stroke-width="1" fill="none"/>
<polyline points="719.0,218.0 716.0,218.0 700.0,234.5" stroke-width="1" fill="none"/>
<polyline points="742.0,232.0 738.0,227.0 730.0,227.0 716.0,237.0" stroke-width="1" fill="none"/>
<polyline points="737.4,252.0 733.0,252.0 722.0,243.5" stroke-width="1" fill="none"/>
<polyline points="711.6,257.0 708.0,257.0 696.0,244.0" stroke-width="1" fill="none"/>
<polyline points="704.3,268.0 700.0,268.0 687.5,250.0" stroke-width="1" fill="none"/>
<line x1="16.0" y1="359.5" x2="129.5" y2="359.5" stroke-width="1"/>
<line x1="20.5" y1="354.5" x2="20.5" y2="400.8" stroke-width="1"/>
<line x1="19.8" y1="367.0" x2="21.8" y2="369.0" stroke-width="0.9"/>
<line x1="19.8" y1="381.0" x2="21.8" y2="383.0" stroke-width="0.9"/>
<line x1="19.8" y1="397.0" x2="21.8" y2="399.0" stroke-width="0.9"/>
<line x1="71.5" y1="354.5" x2="71.5" y2="430.7" stroke-width="1"/>
<line x1="70.6" y1="367.0" x2="72.6" y2="369.0" stroke-width="0.9"/>
<line x1="70.6" y1="381.0" x2="72.6" y2="383.0" stroke-width="0.9"/>
<line x1="70.6" y1="397.0" x2="72.6" y2="399.0" stroke-width="0.9"/>
<line x1="76.5" y1="354.5" x2="76.5" y2="430.7" stroke-width="1"/>
<line x1="75.0" y1="367.0" x2="77.0" y2="369.0" stroke-width="0.9"/>
<line x1="75.0" y1="381.0" x2="77.0" y2="383.0" stroke-width="0.9"/>
<line x1="75.0" y1="397.0" x2="77.0" y2="399.0" stroke-width="0.9"/>
<line x1="128.5" y1="354.5" x2="128.5" y2="400.5" stroke-width="1"/>
<line x1="127.8" y1="367.0" x2="129.8" y2="369.0" stroke-width="0.9"/>
<line x1="127.8" y1="381.0" x2="129.8" y2="383.0" stroke-width="0.9"/>
<line x1="127.8" y1="397.0" x2="129.8" y2="399.0" stroke-width="0.9"/>
<line x1="16.0" y1="386.5" x2="36.0" y2="386.5" stroke-width="1.1"/>
<line x1="20.8" y1="386.0" x2="37.0" y2="386.0" stroke-width="2"/>
<line x1="37.0" y1="387.5" x2="96.7" y2="387.5" stroke-width="0.8"/>
<line x1="16.0" y1="397.5" x2="31.0" y2="397.5" stroke-width="1.1"/>
<line x1="105.0" y1="397.5" x2="129.5" y2="397.5" stroke-width="1"/>
<line x1="20.8" y1="397.5" x2="36.9" y2="397.5" stroke-width="1.2"/>
<line x1="36.0" y1="386.0" x2="36.0" y2="395.0" stroke-width="2"/>
<path d="M31,397 L31,410 Q31,420.2 38,420.2 L99,420.2 Q105.6,420.2 105.6,412.8 L105.6,393.3" stroke-width="1.3" fill="none"/>
<path d="M33.9,394.8 L33.9,409 Q33.9,412.8 37,412.8 L86.2,412.8" stroke-width="1.5" fill="none"/>
<line x1="36.0" y1="409.5" x2="60.0" y2="409.5" stroke-width="1"/>
<line x1="84.5" y1="394.8" x2="84.5" y2="412.0" stroke-width="1.2"/>
<line x1="87.5" y1="394.8" x2="87.5" y2="412.0" stroke-width="1.2"/>
<line x1="80.5" y1="387.4" x2="80.5" y2="409.0" stroke-width="0.9"/>
<line x1="47.5" y1="386.3" x2="47.5" y2="409.0" stroke-width="0.9"/>
<line x1="94.5" y1="386.0" x2="94.5" y2="420.2" stroke-width="1"/>
<rect x="97.0" y="385.0" width="9.0" height="8.0" rx="0" stroke-width="1.6" fill="none"/>
<line x1="105.0" y1="385.0" x2="132.0" y2="385.0" stroke-width="1.8"/>
<line x1="106.0" y1="393.5" x2="113.0" y2="393.5" stroke-width="0.8"/>
<line x1="88.0" y1="408.5" x2="100.0" y2="408.5" stroke-width="0.8"/>
<line x1="92.0" y1="413.5" x2="100.0" y2="413.5" stroke-width="0.8"/>
<line x1="208.5" y1="335.5" x2="208.5" y2="429.6" stroke-width="1"/>
<polyline points="207.0,338.0 208.4,335.5 209.8,338.0" stroke-width="0.8" fill="none"/>
<polyline points="207.0,427.0 208.4,429.6 209.8,427.0" stroke-width="0.8" fill="none"/>
<line x1="205.5" y1="335.5" x2="211.5" y2="335.5" stroke-width="0.9"/>
<line x1="219.5" y1="333.0" x2="219.5" y2="431.0" stroke-width="1"/>
<line x1="222.0" y1="329.0" x2="222.0" y2="438.0" stroke-width="1.6"/>
<line x1="217.5" y1="336.5" x2="220.5" y2="336.5" stroke-width="0.9"/>
<line x1="217.5" y1="361.5" x2="220.5" y2="361.5" stroke-width="0.9"/>
<line x1="217.5" y1="377.5" x2="220.5" y2="377.5" stroke-width="0.9"/>
<line x1="217.5" y1="390.5" x2="220.5" y2="390.5" stroke-width="0.9"/>
<line x1="217.5" y1="409.5" x2="220.5" y2="409.5" stroke-width="0.9"/>
<line x1="217.5" y1="424.5" x2="220.5" y2="424.5" stroke-width="0.9"/>
<line x1="221.5" y1="336.5" x2="235.3" y2="336.5" stroke-width="1.2"/>
<line x1="221.5" y1="361.5" x2="235.3" y2="361.5" stroke-width="1.2"/>
<line x1="235.0" y1="336.5" x2="235.0" y2="361.5" stroke-width="1.7"/>
<line x1="224.5" y1="338.5" x2="224.5" y2="357.0" stroke-width="0.9"/>
<line x1="233.5" y1="338.5" x2="233.5" y2="359.0" stroke-width="0.9"/>
<line x1="224.0" y1="338.5" x2="233.0" y2="338.5" stroke-width="0.9"/>
<line x1="233.4" y1="337.0" x2="226.7" y2="356.7" stroke-width="0.9"/>
<path d="M223,355.7 Q228,356 234,360" stroke-width="0.9" fill="none"/>
<line x1="221.5" y1="332.5" x2="241.0" y2="332.5" stroke-width="1"/>
<polyline points="241.0,332.7 243.0,330.0 246.0,330.0" stroke-width="0.8" fill="none"/>
<polyline points="246.0,353.8 240.0,353.8 238.5,349.0 235.5,352.0" stroke-width="0.9" fill="none"/>
<line x1="219.0" y1="352.5" x2="233.0" y2="352.5" stroke-width="0.8"/>
<polyline points="239.0,361.5 236.0,361.5 234.5,359.0" stroke-width="0.9" fill="none"/>
<polyline points="235.0,368.5 231.0,368.5 229.5,365.5 222.5,372.0" stroke-width="0.9" fill="none"/>
<polyline points="230.0,375.5 227.0,375.5 225.5,373.0 221.5,379.0" stroke-width="0.9" fill="none"/>
<path d="M223,388.3 Q224,378 229,377.6 Q233,377.6 234.5,381" stroke-width="1.3" fill="none"/>
<path d="M225.5,388.3 Q226.3,380.5 229.3,380.2" stroke-width="1" fill="none"/>
<line x1="219.0" y1="390.0" x2="250.6" y2="390.0" stroke-width="1.6"/>
<line x1="250.5" y1="387.0" x2="250.5" y2="392.5" stroke-width="1"/>
<line x1="248.0" y1="390.2" x2="248.0" y2="424.8" stroke-width="1.8"/>
<line x1="221.5" y1="425.0" x2="248.5" y2="425.0" stroke-width="1.7"/>
<line x1="221.5" y1="409.0" x2="247.8" y2="409.0" stroke-width="1.6"/>
<line x1="244.5" y1="392.0" x2="244.5" y2="424.0" stroke-width="0.9"/>
<path d="M225.7,391 Q226,398.9 229.5,398.9 L241,398.9 Q244,398.9 244.3,391" stroke-width="1" fill="none"/>
<line x1="223.0" y1="403.5" x2="244.5" y2="403.5" stroke-width="0.8"/>
<line x1="223.0" y1="414.5" x2="244.5" y2="414.5" stroke-width="0.8"/>
<line x1="223.0" y1="419.5" x2="244.5" y2="419.5" stroke-width="0.8"/>
<polyline points="225.0,420.0 228.0,416.0 231.0,418.0" stroke-width="0.8" fill="none"/>
<polyline points="224.0,414.0 227.0,411.0 230.0,413.0" stroke-width="0.8" fill="none"/>
<polyline points="260.0,387.2 254.5,387.2 253.0,383.0 250.6,390.0" stroke-width="0.9" fill="none"/>
<polyline points="256.0,406.0 251.5,406.0 250.0,403.0 248.0,408.0" stroke-width="0.9" fill="none"/>
<polyline points="253.0,413.5 250.5,413.5 248.0,417.0" stroke-width="0.9" fill="none"/>
<polyline points="258.0,425.5 254.0,425.5 252.0,421.5 249.0,428.0" stroke-width="0.9" fill="none"/>
<line x1="205.5" y1="430.5" x2="278.0" y2="430.5" stroke-width="1.2"/>
<polyline points="221.0,433.5 224.5,433.5 224.5,431.0" stroke-width="0.8" fill="none"/>
<line x1="347.6" y1="398.5" x2="428.5" y2="398.5" stroke-width="1"/>
<line x1="342.5" y1="413.5" x2="428.5" y2="413.5" stroke-width="1"/>
<line x1="354.4" y1="416.5" x2="428.8" y2="416.5" stroke-width="1"/>
<line x1="383.5" y1="398.0" x2="383.5" y2="413.2" stroke-width="1"/>
<line x1="393.5" y1="398.0" x2="393.5" y2="413.2" stroke-width="1"/>
<line x1="404.5" y1="398.0" x2="404.5" y2="413.2" stroke-width="1"/>
<line x1="415.5" y1="398.0" x2="415.5" y2="413.2" stroke-width="1"/>
<line x1="426.5" y1="398.0" x2="426.5" y2="413.2" stroke-width="1"/>
<line x1="428.5" y1="398.0" x2="428.5" y2="413.2" stroke-width="1"/>
<line x1="428.5" y1="398.0" x2="428.5" y2="416.3" stroke-width="1"/>
<line x1="361.5" y1="392.6" x2="361.5" y2="447.4" stroke-width="1"/>
<line x1="340.0" y1="430.5" x2="385.5" y2="430.5" stroke-width="1"/>
<line x1="385.5" y1="430.4" x2="385.5" y2="461.3" stroke-width="1"/>
<polyline points="340.0,428.6 347.0,428.6 353.7,434.0 367.9,416.5" stroke-width="1" fill="none"/>
<polyline points="428.5,406.0 431.6,419.5 435.0,414.5 440.0,414.5" stroke-width="1" fill="none"/>
<polyline points="399.3,417.3 394.0,429.3 397.8,435.6 401.0,436.6" stroke-width="1" fill="none"/>
<rect x="397.5" y="416.5" width="4.0" height="3.0" rx="0" stroke-width="0.9" fill="none"/>
<polyline points="399.3,395.6 403.0,395.6 405.2,393.1 409.7,391.6 416.4,407.6" stroke-width="1" fill="none"/>
<line x1="511.5" y1="367.0" x2="511.5" y2="461.3" stroke-width="1.3"/>
<line x1="520.5" y1="367.0" x2="520.5" y2="461.3" stroke-width="1.3"/>
<rect x="513.4" y="374.0" width="6.5" height="45.8" stroke-width="1.2" fill="#111"/>
<rect x="514.3" y="374.8" width="1.3" height="6.4" rx="0" stroke-width="0.01" fill="#ffffff"/>
<rect x="516.3" y="374.8" width="2.7" height="2.8" rx="0" stroke-width="0.01" fill="#ffffff"/>
<rect x="516.3" y="378.2" width="2.7" height="2.8" rx="0" stroke-width="0.01" fill="#ffffff"/>
<rect x="517.7" y="382.4" width="1.3" height="6.4" rx="0" stroke-width="0.01" fill="#ffffff"/>
<rect x="514.3" y="382.4" width="2.7" height="2.8" rx="0" stroke-width="0.01" fill="#ffffff"/>
<rect x="514.3" y="385.9" width="2.7" height="2.8" rx="0" stroke-width="0.01" fill="#ffffff"/>
<rect x="514.3" y="390.0" width="1.3" height="6.4" rx="0" stroke-width="0.01" fill="#ffffff"/>
<rect x="516.3" y="390.0" width="2.7" height="2.8" rx="0" stroke-width="0.01" fill="#ffffff"/>
<rect x="516.3" y="393.5" width="2.7" height="2.8" rx="0" stroke-width="0.01" fill="#ffffff"/>
<rect x="517.7" y="397.6" width="1.3" height="6.4" rx="0" stroke-width="0.01" fill="#ffffff"/>
<rect x="514.3" y="397.6" width="2.7" height="2.8" rx="0" stroke-width="0.01" fill="#ffffff"/>
<rect x="514.3" y="401.1" width="2.7" height="2.8" rx="0" stroke-width="0.01" fill="#ffffff"/>
<rect x="514.3" y="405.2" width="1.3" height="6.4" rx="0" stroke-width="0.01" fill="#ffffff"/>
<rect x="516.3" y="405.2" width="2.7" height="2.8" rx="0" stroke-width="0.01" fill="#ffffff"/>
<rect x="516.3" y="408.7" width="2.7" height="2.8" rx="0" stroke-width="0.01" fill="#ffffff"/>
<rect x="517.7" y="412.8" width="1.3" height="6.4" rx="0" stroke-width="0.01" fill="#ffffff"/>
<rect x="514.3" y="412.8" width="2.7" height="2.8" rx="0" stroke-width="0.01" fill="#ffffff"/>
<rect x="514.3" y="416.3" width="2.7" height="2.8" rx="0" stroke-width="0.01" fill="#ffffff"/>
<line x1="513.5" y1="367.0" x2="513.5" y2="374.0" stroke-width="0.9"/>
<rect x="512.5" y="419.5" width="7.0" height="10.0" rx="0" stroke-width="1" fill="#1a1a1a"/>
<path d="M516,422.5 a2,2 0 1,0 2,2" stroke-width="0.9" fill="none" stroke="#fff"/>
<line x1="513.5" y1="430.0" x2="513.5" y2="461.3" stroke-width="1.3"/>
<line x1="518.0" y1="430.0" x2="518.0" y2="461.3" stroke-width="2.2"/>
<line x1="515.5" y1="436.0" x2="515.5" y2="461.3" stroke-width="0.8"/>
<line x1="500.6" y1="461.5" x2="534.7" y2="461.5" stroke-width="1"/>
<line x1="520.0" y1="374.0" x2="530.0" y2="371.5" stroke-width="1"/>
<line x1="503.0" y1="379.0" x2="511.0" y2="376.0" stroke-width="1"/>
<line x1="523.0" y1="389.5" x2="520.3" y2="391.0" stroke-width="0.9"/>
<line x1="524.6" y1="428.0" x2="520.5" y2="421.0" stroke-width="0.9"/>
<line x1="472.0" y1="413.6" x2="511.2" y2="397.8" stroke-width="1.2"/>
<line x1="472.8" y1="415.3" x2="511.2" y2="399.8" stroke-width="1.1"/>
<line x1="473.5" y1="417.0" x2="511.2" y2="401.8" stroke-width="1.1"/>
<line x1="478.0" y1="417.5" x2="511.2" y2="417.5" stroke-width="1.2"/>
<line x1="478.0" y1="419.5" x2="511.2" y2="419.5" stroke-width="1"/>
<polyline points="483.5,418.0 500.0,409.8 510.0,418.0" stroke-width="1.1" fill="none"/>
<line x1="487.8" y1="389.9" x2="495.7" y2="404.0" stroke-width="1"/>
<line x1="502.7" y1="386.4" x2="508.0" y2="397.0" stroke-width="1"/>
<polyline points="472.0,413.6 471.0,418.0 473.0,422.0 478.0,421.5 478.0,417.5" stroke-width="1" fill="none"/>
<line x1="473.0" y1="422.0" x2="473.0" y2="432.0" stroke-width="1.6"/>
<polyline points="458.0,410.5 475.0,410.5 477.0,413.6" stroke-width="0.8" fill="none"/>
<line x1="477.5" y1="399.5" x2="477.5" y2="412.7" stroke-width="0.9"/>
<line x1="475.5" y1="399.5" x2="479.0" y2="399.5" stroke-width="0.8"/>
<line x1="462.5" y1="416.0" x2="462.5" y2="418.5" stroke-width="0.8"/>
<line x1="458.0" y1="415.5" x2="468.0" y2="415.5" stroke-width="0.8"/>
<polyline points="451.3,437.0 465.0,437.0 467.0,439.5 472.8,430.0" stroke-width="0.9" fill="none"/>
<polyline points="637.8,340.0 630.3,340.0 626.6,333.5 620.0,345.0" stroke-width="1" fill="none"/>
<line x1="607.5" y1="339.0" x2="607.5" y2="408.0" stroke-width="1"/>
<line x1="617.5" y1="339.0" x2="617.5" y2="408.0" stroke-width="1"/>
<rect x="615.5" y="351.5" width="4.0" height="4.0" rx="0" stroke-width="1" fill="none"/>
<line x1="617.0" y1="343.0" x2="617.0" y2="345.5" stroke-width="2"/>
<line x1="605.0" y1="359.5" x2="652.0" y2="359.5" stroke-width="1.1"/>
<line x1="618.5" y1="359.5" x2="618.5" y2="380.4" stroke-width="1"/>
<line x1="624.5" y1="359.5" x2="624.5" y2="380.4" stroke-width="1"/>
<line x1="629.5" y1="359.5" x2="629.5" y2="380.4" stroke-width="1"/>
<line x1="635.5" y1="359.5" x2="635.5" y2="380.4" stroke-width="1"/>
<line x1="640.5" y1="359.5" x2="640.5" y2="380.4" stroke-width="1"/>
<line x1="644.5" y1="359.5" x2="644.5" y2="380.4" stroke-width="1"/>
<line x1="618.2" y1="363.5" x2="645.5" y2="363.5" stroke-width="1"/>
<line x1="618.2" y1="368.5" x2="645.5" y2="368.5" stroke-width="1"/>
<line x1="618.2" y1="374.5" x2="645.5" y2="374.5" stroke-width="1"/>
<line x1="618.2" y1="378.5" x2="645.5" y2="378.5" stroke-width="1"/>
<line x1="614.0" y1="381.0" x2="645.5" y2="381.0" stroke-width="2.2"/>
<line x1="649.6" y1="358.6" x2="644.5" y2="379.6" stroke-width="1"/>
<line x1="650.8" y1="358.6" x2="645.7" y2="379.6" stroke-width="1"/>
<line x1="652.0" y1="358.6" x2="646.9" y2="379.6" stroke-width="1"/>
<line x1="653.0" y1="358.6" x2="647.9" y2="379.6" stroke-width="1"/>
<line x1="646.0" y1="359.5" x2="654.0" y2="356.5" stroke-width="1"/>
<polyline points="660.5,355.0 655.5,355.0 653.4,349.4 648.0,361.0" stroke-width="1" fill="none"/>
<line x1="666.0" y1="371.0" x2="649.0" y2="376.0" stroke-width="1"/>
<line x1="650.0" y1="366.0" x2="655.0" y2="372.0" stroke-width="1"/>
<line x1="658.5" y1="363.0" x2="658.5" y2="396.4" stroke-width="1"/>
<line x1="617.0" y1="392.5" x2="646.2" y2="392.5" stroke-width="1"/>
<line x1="635.3" y1="396.5" x2="673.0" y2="396.5" stroke-width="1"/>
<line x1="641.0" y1="402.5" x2="645.4" y2="402.5" stroke-width="0.8"/>
<line x1="645.5" y1="382.0" x2="645.5" y2="402.0" stroke-width="1"/>
<line x1="621.5" y1="381.0" x2="621.5" y2="388.0" stroke-width="0.8"/>
<line x1="697.2" y1="360.5" x2="760.8" y2="360.5" stroke-width="1"/>
<line x1="707.0" y1="369.5" x2="785.0" y2="369.5" stroke-width="1"/>
<line x1="700.5" y1="366.7" x2="700.5" y2="415.0" stroke-width="1"/>
<line x1="707.5" y1="369.4" x2="707.5" y2="410.5" stroke-width="1.1"/>
<path d="M760.8,369.4 L760.8,396 Q760.8,402.4 754,402.4 L707,402.4" stroke-width="1.1" fill="none"/>
<path d="M763.7,369.4 L763.7,397 Q763.7,404.5 756,404.5" stroke-width="1" fill="none"/>
<line x1="707.0" y1="379.5" x2="760.8" y2="379.5" stroke-width="1"/>
<rect x="707.5" y="395.5" width="53.0" height="5.0" rx="0" stroke-width="1" fill="#555"/>
<line x1="707.0" y1="397.5" x2="760.8" y2="397.5" stroke-width="0.7" stroke="#ddd"/>
<line x1="708.5" y1="395.5" x2="708.5" y2="400.0" stroke-width="0.6" stroke="#ccc"/>
<line x1="714.5" y1="395.5" x2="714.5" y2="400.0" stroke-width="0.6" stroke="#ccc"/>
<line x1="720.5" y1="395.5" x2="720.5" y2="400.0" stroke-width="0.6" stroke="#ccc"/>
<line x1="726.5" y1="395.5" x2="726.5" y2="400.0" stroke-width="0.6" stroke="#ccc"/>
<line x1="732.5" y1="395.5" x2="732.5" y2="400.0" stroke-width="0.6" stroke="#ccc"/>
<line x1="738.5" y1="395.5" x2="738.5" y2="400.0" stroke-width="0.6" stroke="#ccc"/>
<line x1="744.5" y1="395.5" x2="744.5" y2="400.0" stroke-width="0.6" stroke="#ccc"/>
<line x1="750.5" y1="395.5" x2="750.5" y2="400.0" stroke-width="0.6" stroke="#ccc"/>
<line x1="756.5" y1="395.5" x2="756.5" y2="400.0" stroke-width="0.6" stroke="#ccc"/>
<line x1="765.0" y1="397.5" x2="785.0" y2="397.5" stroke-width="1"/>
<line x1="769.5" y1="369.4" x2="769.5" y2="403.2" stroke-width="1"/>
<rect x="712.5" y="368.5" width="3.0" height="2.0" rx="0" stroke-width="0.8" fill="none"/>
<rect x="753.5" y="368.5" width="3.0" height="2.0" rx="0" stroke-width="0.8" fill="none"/>
<line x1="703.0" y1="377.5" x2="707.0" y2="377.5" stroke-width="0.8"/>
<line x1="707.0" y1="409.5" x2="726.0" y2="409.5" stroke-width="1"/>
<line x1="743.0" y1="409.5" x2="763.0" y2="409.5" stroke-width="1"/>
<polyline points="735.5,371.5 735.5,376.5 740.0,377.5" stroke-width="0.9" fill="none"/>
<polyline points="772.0,362.2 764.0,362.2 760.8,356.6 754.4,368.6" stroke-width="1" fill="none"/>
<line x1="93.5" y1="493.4" x2="93.5" y2="527.0" stroke-width="1.1"/>
<path d="M93.5,498 Q104,498.5 112,505.5" stroke-width="1" fill="none"/>
<line x1="85.0" y1="510.5" x2="107.0" y2="510.5" stroke-width="1.1"/>
<line x1="85.0" y1="517.5" x2="100.0" y2="517.5" stroke-width="1.1"/>
<polyline points="87.5,509.0 85.0,510.7 87.5,512.4" stroke-width="0.9" fill="none"/>
<polyline points="87.5,515.7 85.0,517.4 87.5,519.1" stroke-width="0.9" fill="none"/>
<line x1="98.3" y1="521.2" x2="115.6" y2="504.0" stroke-width="1.1"/>
<line x1="100.8" y1="523.6" x2="118.0" y2="506.4" stroke-width="1.1"/>
<line x1="98.3" y1="521.2" x2="100.8" y2="523.6" stroke-width="1.1"/>
<line x1="103.0" y1="526.0" x2="116.5" y2="511.6" stroke-width="1"/>
<polyline points="102.5,524.3 103.0,526.0 104.7,525.7" stroke-width="0.9" fill="none"/>
<polyline points="114.8,511.9 116.5,511.6 116.2,513.3" stroke-width="0.9" fill="none"/>
<polygon points="112.5,505.5 115.0,499.5 117.5,506.5" stroke-width="1.1" fill="none"/>
<line x1="117.5" y1="506.5" x2="121.0" y2="508.0" stroke-width="0.9"/>
<line x1="284.5" y1="504.7" x2="284.5" y2="560.0" stroke-width="1" stroke="#555"/>
<line x1="288.0" y1="504.7" x2="288.0" y2="544.5" stroke-width="1.8"/>
<line x1="287.5" y1="544.5" x2="287.5" y2="560.0" stroke-width="1"/>
<line x1="290.5" y1="504.7" x2="290.5" y2="560.0" stroke-width="1"/>
<line x1="293.5" y1="504.7" x2="293.5" y2="560.0" stroke-width="1" stroke="#555"/>
<line x1="268.4" y1="507.5" x2="299.7" y2="507.5" stroke-width="1"/>
<line x1="285.0" y1="513.5" x2="289.0" y2="513.5" stroke-width="0.9"/>
<line x1="290.4" y1="520.5" x2="294.0" y2="520.5" stroke-width="0.9"/>
<line x1="309.0" y1="513.5" x2="318.4" y2="513.5" stroke-width="0.9" stroke-dasharray="5 2"/>
<line x1="317.0" y1="520.5" x2="322.0" y2="520.5" stroke-width="0.9"/>
<line x1="255.7" y1="529.5" x2="285.0" y2="529.5" stroke-width="1"/>
<line x1="255.7" y1="531.5" x2="285.0" y2="531.5" stroke-width="1"/>
<path d="M255.7,529.4 Q254.5,530.6 255.7,531.8" stroke-width="1" fill="none"/>
<rect x="285.0" y="529.3" width="33.4" height="2.4" rx="0" stroke-width="0.4" fill="#111"/>
<line x1="293.0" y1="527.5" x2="324.5" y2="527.5" stroke-width="1"/>
<line x1="285.0" y1="534.0" x2="310.0" y2="534.0" stroke-width="1.5"/>
<rect x="293.5" y="533.5" width="16.0" height="4.0" rx="0" stroke-width="1" fill="none"/>
<line x1="301.5" y1="534.0" x2="301.5" y2="554.0" stroke-width="1"/>
<line x1="309.4" y1="534.0" x2="326.3" y2="562.0" stroke-width="1"/>
<line x1="286.0" y1="532.0" x2="286.0" y2="545.0" stroke-width="1.5"/>
<polyline points="285.0,543.0 286.5,546.0 288.0,543.0" stroke-width="0.8" fill="none"/>
<polyline points="305.8,556.0 303.0,556.0 301.5,552.0" stroke-width="0.8" fill="none"/>
<line x1="324.0" y1="563.5" x2="328.0" y2="563.5" stroke-width="0.8"/>
<polyline points="324.6,538.0 322.5,538.0 322.5,543.0" stroke-width="0.9" fill="none"/>
<line x1="322.5" y1="540.5" x2="324.0" y2="540.5" stroke-width="0.8"/>
<line x1="337.5" y1="505.9" x2="337.5" y2="518.0" stroke-width="1"/>
<line x1="332.0" y1="518.5" x2="337.0" y2="518.5" stroke-width="1"/>
<line x1="337.5" y1="524.0" x2="337.5" y2="553.0" stroke-width="1"/>
<line x1="343.3" y1="511.5" x2="373.5" y2="511.5" stroke-width="1"/>
<line x1="386.0" y1="511.5" x2="415.5" y2="511.5" stroke-width="1"/>
<polyline points="345.3,510.7 343.3,511.9 345.3,513.1" stroke-width="0.9" fill="none"/>
<polyline points="413.5,510.7 415.5,511.9 413.5,513.1" stroke-width="0.9" fill="none"/>
<line x1="343.5" y1="505.9" x2="343.5" y2="553.0" stroke-width="1"/>
<path d="M343.3,518.2 L412,518.2 Q416.5,518.2 416.5,522 L416.5,542 Q416.5,547.5 410.5,547.5 L343.3,547.5" stroke-width="1.1" fill="none"/>
<path d="M345,524 L414.5,524 L414.5,541 Q414.5,544.7 410.5,544.7 L345,544.7" stroke-width="1" fill="none"/>
<line x1="345.5" y1="524.0" x2="345.5" y2="547.5" stroke-width="1"/>
<line x1="345.0" y1="532.5" x2="396.2" y2="532.5" stroke-width="1"/>
<line x1="345.0" y1="539.5" x2="411.9" y2="539.5" stroke-width="1"/>
<line x1="350.5" y1="539.7" x2="350.5" y2="544.7" stroke-width="0.9"/>
<line x1="395.5" y1="524.0" x2="395.5" y2="547.5" stroke-width="1"/>
<polyline points="356.2,525.5 357.6,530.5 359.0,525.5" stroke-width="0.9" fill="none"/>
<line x1="355.6" y1="531.5" x2="361.1" y2="531.5" stroke-width="0.8"/>
<line x1="358.1" y1="524.5" x2="361.6" y2="524.5" stroke-width="0.8"/>
<polyline points="376.6,525.5 378.0,530.5 379.4,525.5" stroke-width="0.9" fill="none"/>
<line x1="376.0" y1="531.5" x2="381.5" y2="531.5" stroke-width="0.8"/>
<line x1="378.5" y1="524.5" x2="382.0" y2="524.5" stroke-width="0.8"/>
<polyline points="398.4,525.5 399.8,530.5 401.2,525.5" stroke-width="0.9" fill="none"/>
<line x1="397.8" y1="531.5" x2="403.3" y2="531.5" stroke-width="0.8"/>
<line x1="400.3" y1="524.5" x2="403.8" y2="524.5" stroke-width="0.8"/>
<polyline points="421.5,509.2 414.9,509.2 411.3,503.4 405.3,524.0" stroke-width="1" fill="none"/>
<line x1="434.5" y1="498.8" x2="434.5" y2="566.0" stroke-width="1"/>
<line x1="441.0" y1="496.0" x2="441.0" y2="566.0" stroke-width="1.8"/>
<line x1="443.5" y1="496.0" x2="443.5" y2="566.0" stroke-width="0.9"/>
<polyline points="461.6,514.4 455.0,514.4 453.3,509.0 447.0,529.0" stroke-width="1" fill="none"/>
<polyline points="470.8,529.0 468.4,529.0 466.0,522.7 462.5,535.5" stroke-width="1" fill="none"/>
<line x1="443.0" y1="527.5" x2="448.0" y2="527.5" stroke-width="0.8"/>
<line x1="436.0" y1="534.5" x2="441.0" y2="534.5" stroke-width="0.9"/>
<line x1="437.5" y1="531.5" x2="437.5" y2="536.5" stroke-width="0.9"/>
<line x1="442.0" y1="533.5" x2="473.5" y2="533.5" stroke-width="1.2"/>
<line x1="442.0" y1="536.0" x2="466.0" y2="536.0" stroke-width="1.6"/>
<line x1="446.5" y1="536.0" x2="446.5" y2="547.5" stroke-width="0.9"/>
<line x1="451.5" y1="536.0" x2="451.5" y2="547.5" stroke-width="0.9"/>
<line x1="455.5" y1="536.0" x2="455.5" y2="547.5" stroke-width="0.9"/>
<line x1="460.5" y1="536.0" x2="460.5" y2="547.5" stroke-width="0.9"/>
<line x1="443.0" y1="539.5" x2="462.5" y2="539.5" stroke-width="0.9"/>
<line x1="443.0" y1="543.5" x2="462.5" y2="543.5" stroke-width="0.9"/>
<line x1="465.3" y1="534.6" x2="459.7" y2="546.6" stroke-width="1"/>
<line x1="466.5" y1="534.6" x2="460.9" y2="546.6" stroke-width="1"/>
<line x1="467.7" y1="534.6" x2="462.1" y2="546.6" stroke-width="1"/>
<rect x="439.5" y="547.5" width="21.0" height="2.0" rx="0" stroke-width="1" fill="#444"/>
<polyline points="488.0,544.0 478.0,544.0 475.4,539.0 462.5,543.5" stroke-width="1" fill="none"/>
<line x1="473.5" y1="536.0" x2="473.5" y2="555.0" stroke-width="1"/>
<polyline points="472.2,552.8 473.5,555.0 474.8,552.8" stroke-width="0.8" fill="none"/>
<line x1="449.6" y1="555.5" x2="488.0" y2="555.5" stroke-width="1"/>
<line x1="453.5" y1="560.5" x2="458.5" y2="560.5" stroke-width="0.8"/>
<line x1="459.5" y1="549.7" x2="459.5" y2="560.0" stroke-width="1"/>
<line x1="445.5" y1="549.7" x2="445.5" y2="555.2" stroke-width="0.9"/>
<line x1="451.5" y1="549.7" x2="451.5" y2="553.0" stroke-width="0.8"/>
</g>
<g filter="url(#bt)">
<text class="r" x="88.0" y="44.6" font-size="5.8" textLength="68.0" lengthAdjust="spacingAndGlyphs">Remate de mampostería</text>
<text class="r" x="88.0" y="49.9" font-size="5.8" textLength="18.0" lengthAdjust="spacingAndGlyphs">+ 6,50</text>
<text class="r" x="135.0" y="71.4" font-size="5.8" textLength="70.0" lengthAdjust="spacingAndGlyphs">2 TANQUES  DE RESERVA</text>
<text class="r" x="135.0" y="76.7" font-size="5.8" textLength="51.0" lengthAdjust="spacingAndGlyphs">F°C° 1000LTS. c/u</text>
<text class="r" x="135.0" y="81.8" font-size="5.8" textLength="72.0" lengthAdjust="spacingAndGlyphs">abastecidos desde aljibe</text>
<text class="s" x="37.0" y="106.9" font-size="4.2" textLength="21.0" lengthAdjust="spacingAndGlyphs">ACCESORIO</text>
<text class="s" x="37.0" y="110.3" font-size="4.2" textLength="30.0" lengthAdjust="spacingAndGlyphs">babeta frontal</text>
<text class="s" x="23.5" y="146.0" font-size="4.2" textLength="32.5" lengthAdjust="spacingAndGlyphs">REJILLAS  10x10</text>
<text class="s" x="23.5" y="150.0" font-size="4.2" textLength="54.5" lengthAdjust="spacingAndGlyphs">con estante y tela mosquitera</text>
<text class="s" x="23.5" y="154.0" font-size="4.2" textLength="51.5" lengthAdjust="spacingAndGlyphs">para ventilación de cielorraso</text>
<text class="s" x="187.5" y="95.6" font-size="4.5" textLength="4.5" lengthAdjust="spacingAndGlyphs">c.</text>
<text class="r" x="119.3" y="137.7" font-size="5.8" textLength="48.7" lengthAdjust="spacingAndGlyphs">base de tanques</text>
<text class="r" x="119.3" y="143.1" font-size="5.8" textLength="17.7" lengthAdjust="spacingAndGlyphs">+ 4,50</text>
<text class="s" x="128.0" y="182.2" font-size="4.2" textLength="44.0" lengthAdjust="spacingAndGlyphs">2 PERFILES DOBLE "T"</text>
<text class="s" x="128.0" y="186.1" font-size="4.2" textLength="51.0" lengthAdjust="spacingAndGlyphs">para soporte de tanques</text>
<text class="s" x="128.0" y="189.9" font-size="4.2" textLength="53.0" lengthAdjust="spacingAndGlyphs">dimensiones según cálculo</text>
<text class="s" x="34.0" y="205.5" font-size="4.2" textLength="25.0" lengthAdjust="spacingAndGlyphs">en elevación</text>
<text class="s" x="34.0" y="209.9" font-size="4.2" textLength="22.0" lengthAdjust="spacingAndGlyphs">cielorraso</text>
<text class="s" x="34.0" y="214.1" font-size="4.2" textLength="13.0" lengthAdjust="spacingAndGlyphs">+ 0,20</text>
<text class="r" x="60.0" y="223.3" font-size="5.6" textLength="16.0" lengthAdjust="spacingAndGlyphs">+ 2,80</text>
<text class="r" x="103.0" y="232.2" font-size="5.6" textLength="17.0" lengthAdjust="spacingAndGlyphs">+ 2,61</text>
<text class="s" x="149.0" y="229.1" font-size="4.2" textLength="16.0" lengthAdjust="spacingAndGlyphs">Baldosa</text>
<text class="s" x="153.0" y="233.9" font-size="4.2" textLength="21.0" lengthAdjust="spacingAndGlyphs">cerámica</text>
<text class="s" x="175.0" y="241.0" font-size="4.2" textLength="40.0" lengthAdjust="spacingAndGlyphs">dobleado de ladrillos</text>
<text class="s" x="185.0" y="247.5" font-size="4.2" textLength="39.0" lengthAdjust="spacingAndGlyphs">membrana flotante</text>
<text class="s" x="177.0" y="257.5" font-size="4.2" textLength="45.0" lengthAdjust="spacingAndGlyphs">hormigón de pendiente</text>
<text class="s" x="163.0" y="266.5" font-size="4.2" textLength="33.0" lengthAdjust="spacingAndGlyphs">aislación térmica</text>
<text class="s" x="173.0" y="275.0" font-size="4.2" textLength="26.0" lengthAdjust="spacingAndGlyphs">losa cerámica</text>
<text class="s" x="25.0" y="267.5" font-size="4.2" textLength="30.0" lengthAdjust="spacingAndGlyphs">APOYO DE LOSA</text>
<text class="s" x="25.0" y="271.9" font-size="4.2" textLength="27.0" lengthAdjust="spacingAndGlyphs">0,15m x 0,15m</text>
<text class="s" x="25.0" y="276.1" font-size="4.2" textLength="55.0" lengthAdjust="spacingAndGlyphs">4Ø10 - estr. 1Ø6 c/0,15m</text>
<text class="s" x="101.0" y="270.7" font-size="4.2" textLength="41.0" lengthAdjust="spacingAndGlyphs">cielorraso aplicado</text>
<text class="s" x="105.0" y="275.1" font-size="4.2" textLength="35.0" lengthAdjust="spacingAndGlyphs">a la cal al fieltro</text>
<text class="t" x="99.3" y="292.4" textLength="69.0" lengthAdjust="spacingAndGlyphs">DETALLE DE</text>
<text class="t" x="99.3" y="303.6" textLength="89.7" lengthAdjust="spacingAndGlyphs">TECHO DE LOSA</text>
<text class="s" x="343.0" y="45.0" font-size="4.3" textLength="10.0" lengthAdjust="spacingAndGlyphs">CUBIERTA</text>
<text class="s" x="343.0" y="49.2" font-size="4.3" textLength="36.0" lengthAdjust="spacingAndGlyphs">chapa HPCP Nº 24</text>
<text class="s" x="343.0" y="53.4" font-size="4.3" textLength="67.0" lengthAdjust="spacingAndGlyphs">tipo "AU-LI" o "TRAFITUBO" a atornillar</text>
<text class="s" x="343.0" y="57.6" font-size="4.3" textLength="41.0" lengthAdjust="spacingAndGlyphs">color verde incorporado</text>
<text class="s" x="343.0" y="61.8" font-size="4.3" textLength="50.0" lengthAdjust="spacingAndGlyphs">sobre estructura metálica</text>
<text class="s" x="343.0" y="66.0" font-size="4.3" textLength="53.0" lengthAdjust="spacingAndGlyphs">de dimensiones según cálculo</text>
<text class="r" x="357.0" y="127.2" font-size="6.2" textLength="18.0" lengthAdjust="spacingAndGlyphs">L3179</text>
<text class="s" x="392.5" y="91.3" font-size="4.6" textLength="6.8" lengthAdjust="spacingAndGlyphs">2,8</text>
<text class="s" x="426.0" y="61.5" font-size="4.3" textLength="46.0" lengthAdjust="spacingAndGlyphs">HUECO DE VENTILACION</text>
<text class="s" x="426.0" y="66.1" font-size="4.3" textLength="64.0" lengthAdjust="spacingAndGlyphs">10 x 20cm con tela mosquitera</text>
<text class="s" x="443.7" y="70.5" font-size="4.3" textLength="53.3" lengthAdjust="spacingAndGlyphs">PINTURA ANTICONDENSANTE</text>
<text class="s" x="443.7" y="74.8" font-size="4.3" textLength="58.3" lengthAdjust="spacingAndGlyphs">en cara inferior de chapas</text>
<text class="s" x="443.7" y="78.7" font-size="4.3" textLength="43.3" lengthAdjust="spacingAndGlyphs">y estructura metálica</text>
<text class="s" x="465.0" y="83.5" font-size="4.3" textLength="47.0" lengthAdjust="spacingAndGlyphs">CIELORRASO SUSPENDIDO</text>
<text class="s" x="465.0" y="87.5" font-size="4.3" textLength="68.0" lengthAdjust="spacingAndGlyphs">de placas termoacústicas livianas</text>
<text class="s" x="465.0" y="91.3" font-size="4.3" textLength="69.0" lengthAdjust="spacingAndGlyphs">con aislación térmica incorporada</text>
<text class="s" x="436.0" y="98.0" font-size="4.3" textLength="44.0" lengthAdjust="spacingAndGlyphs">REFUERZO HORIZONTAL</text>
<text class="s" x="436.0" y="102.0" font-size="4.3" textLength="41.0" lengthAdjust="spacingAndGlyphs">en todos los muros</text>
<text class="s" x="436.0" y="106.0" font-size="4.3" textLength="24.0" lengthAdjust="spacingAndGlyphs">0,15m x 0,15m</text>
<text class="s" x="436.0" y="110.0" font-size="4.3" textLength="54.0" lengthAdjust="spacingAndGlyphs">4Ø10 - estr. 1Ø6 c/0,15m</text>
<text class="s" x="436.0" y="119.5" font-size="4.3" textLength="18.0" lengthAdjust="spacingAndGlyphs">DINTELES</text>
<text class="s" x="436.0" y="123.5" font-size="4.3" textLength="26.0" lengthAdjust="spacingAndGlyphs">0,15m x 0,20m</text>
<text class="s" x="436.0" y="127.5" font-size="4.3" textLength="54.0" lengthAdjust="spacingAndGlyphs">4Ø10 - estr. 1Ø6 c/0,15m</text>
<text class="s" x="436.0" y="137.0" font-size="4.3" textLength="19.0" lengthAdjust="spacingAndGlyphs">RELLENAR</text>
<text class="s" x="436.0" y="141.0" font-size="4.3" textLength="44.0" lengthAdjust="spacingAndGlyphs">Perfiles metálicos con</text>
<text class="s" x="436.0" y="145.0" font-size="4.3" textLength="24.0" lengthAdjust="spacingAndGlyphs">concreto 1:6</text>
<text class="s" x="436.0" y="149.0" font-size="4.3" textLength="40.0" lengthAdjust="spacingAndGlyphs">previo a colocación</text>
<text class="s" x="295.0" y="70.5" font-size="4.2" textLength="19.0" lengthAdjust="spacingAndGlyphs">Accesorio</text>
<text class="s" x="295.0" y="75.0" font-size="4.2" textLength="18.0" lengthAdjust="spacingAndGlyphs">goterón</text>
<text class="s" x="287.0" y="81.1" font-size="4.2" textLength="17.0" lengthAdjust="spacingAndGlyphs">Accesorio</text>
<text class="s" x="287.0" y="85.5" font-size="4.2" textLength="16.0" lengthAdjust="spacingAndGlyphs">cumbrera</text>
<text class="s" x="283.0" y="91.5" font-size="4.2" textLength="30.0" lengthAdjust="spacingAndGlyphs">Bajada pluvial</text>
<text class="s" x="283.0" y="95.8" font-size="4.2" textLength="20.0" lengthAdjust="spacingAndGlyphs">PVC Ø100</text>
<text class="r" x="306.0" y="103.2" font-size="5.6" textLength="16.0" lengthAdjust="spacingAndGlyphs">+ 2,80</text>
<text class="r" x="319.0" y="98.7" font-size="4.6" textLength="10.0" lengthAdjust="spacingAndGlyphs">2,40</text>
<text class="r" x="321.7" y="73.3" font-size="5.0" textLength="16.8" lengthAdjust="spacingAndGlyphs">+ 3,25</text>
<text class="r" x="337.5" y="78.1" font-size="5.0" textLength="15.9" lengthAdjust="spacingAndGlyphs">+ 3,10</text>
<text class="s" x="292.0" y="112.7" font-size="4.2" textLength="19.0" lengthAdjust="spacingAndGlyphs">Accesorio</text>
<text class="s" x="292.0" y="116.8" font-size="4.2" textLength="38.0" lengthAdjust="spacingAndGlyphs">esquina de aleros</text>
<text class="s" x="246.5" y="138.5" font-size="4.3" textLength="67.5" lengthAdjust="spacingAndGlyphs">CENEFA Y DOBLADIZAS DE ALEROS</text>
<text class="s" x="246.5" y="142.5" font-size="4.3" textLength="34.5" lengthAdjust="spacingAndGlyphs">chapa HPCP Nº 24</text>
<text class="s" x="246.5" y="146.5" font-size="4.3" textLength="74.5" lengthAdjust="spacingAndGlyphs">tipo "AU-LI" o "TRAFITUBO" a atornillar</text>
<text class="s" x="246.5" y="150.5" font-size="4.3" textLength="51.5" lengthAdjust="spacingAndGlyphs">color verde incorporado</text>
<text class="s" x="246.5" y="154.5" font-size="4.3" textLength="55.5" lengthAdjust="spacingAndGlyphs">sobre estructura metálica</text>
<text class="s" x="246.5" y="158.5" font-size="4.3" textLength="60.5" lengthAdjust="spacingAndGlyphs">de dimensiones según cálculo</text>
<text class="s" x="311.0" y="148.7" font-size="4.3" textLength="48.0" lengthAdjust="spacingAndGlyphs">REJAS DE VENTILACION</text>
<text class="s" x="311.0" y="153.5" font-size="4.3" textLength="84.0" lengthAdjust="spacingAndGlyphs">10 x 20cm con rejilla y tela mosquitera</text>
<text class="s" x="346.0" y="131.5" font-size="4.3" textLength="46.0" lengthAdjust="spacingAndGlyphs">INSTALACION ELECTRICA</text>
<text class="s" x="346.0" y="135.7" font-size="4.3" textLength="54.0" lengthAdjust="spacingAndGlyphs">con accesorios iluminación</text>
<text class="s" x="346.0" y="140.1" font-size="4.3" textLength="26.0" lengthAdjust="spacingAndGlyphs">según planos</text>
<text class="t" x="248.0" y="179.8" textLength="69.0" lengthAdjust="spacingAndGlyphs">DETALLE DE</text>
<text class="t" x="248.0" y="191.2" textLength="103.5" lengthAdjust="spacingAndGlyphs">ALERO DE FRENTE</text>
<text class="t" x="248.0" y="202.5" textLength="75.9" lengthAdjust="spacingAndGlyphs">Y POSTERIOR</text>
<text class="s" x="353.5" y="198.5" font-size="4.3" textLength="31.5" lengthAdjust="spacingAndGlyphs">CAPA AISLADORA</text>
<text class="s" x="353.5" y="202.5" font-size="4.3" textLength="13.5" lengthAdjust="spacingAndGlyphs">1:3+10%</text>
<text class="s" x="353.5" y="206.5" font-size="4.3" textLength="59.5" lengthAdjust="spacingAndGlyphs">pintada con pintura hidrófuga</text>
<text class="s" x="353.5" y="210.5" font-size="4.3" textLength="54.5" lengthAdjust="spacingAndGlyphs">y membrana asfáltica 2mm</text>
<text class="s" x="330.6" y="215.0" font-size="4.3" textLength="28.4" lengthAdjust="spacingAndGlyphs">PISO DE PATIO</text>
<text class="s" x="330.6" y="219.0" font-size="4.3" textLength="31.4" lengthAdjust="spacingAndGlyphs">granito gris 30x30</text>
<text class="s" x="330.6" y="223.0" font-size="4.3" textLength="26.4" lengthAdjust="spacingAndGlyphs">pulido en obra</text>
<text class="s" x="319.5" y="227.5" font-size="4.3" textLength="15.5" lengthAdjust="spacingAndGlyphs">MORTERO</text>
<text class="s" x="319.5" y="231.5" font-size="4.3" textLength="35.5" lengthAdjust="spacingAndGlyphs">de cal reforzado</text>
<text class="s" x="319.5" y="235.5" font-size="4.3" textLength="11.5" lengthAdjust="spacingAndGlyphs">1:1/4:4</text>
<text class="s" x="313.0" y="244.0" font-size="4.3" textLength="39.0" lengthAdjust="spacingAndGlyphs">CARPETA HIDROFUGA</text>
<text class="s" x="313.0" y="248.1" font-size="4.3" textLength="12.0" lengthAdjust="spacingAndGlyphs">1:3+10%</text>
<text class="s" x="338.0" y="251.5" font-size="4.3" textLength="22.0" lengthAdjust="spacingAndGlyphs">CONTRAPISO</text>
<text class="s" x="338.0" y="255.7" font-size="4.3" textLength="45.0" lengthAdjust="spacingAndGlyphs">10/4:1:1:8 MANTO ARENA</text>
<text class="s" x="358.0" y="259.8" font-size="4.3" textLength="25.0" lengthAdjust="spacingAndGlyphs">espesor 5cm</text>
<text class="m" x="376.0" y="226.7" font-size="7.6" textLength="23.0" lengthAdjust="spacingAndGlyphs">- 0,05</text>
<text class="m" x="416.0" y="226.7" font-size="7.6" textLength="32.0" lengthAdjust="spacingAndGlyphs">+/- 0,00</text>
<text class="s" x="439.5" y="217.5" font-size="4.3" textLength="8.5" lengthAdjust="spacingAndGlyphs">PISO</text>
<text class="s" x="439.5" y="221.7" font-size="4.3" textLength="35.5" lengthAdjust="spacingAndGlyphs">cerámico 20x20cm</text>
<text class="s" x="458.5" y="225.7" font-size="4.3" textLength="40.5" lengthAdjust="spacingAndGlyphs">MORTERO DE ASIENTO</text>
<text class="s" x="458.5" y="230.0" font-size="4.3" textLength="64.5" lengthAdjust="spacingAndGlyphs">cemento de contacto hidrófugo</text>
<text class="s" x="470.0" y="239.0" font-size="4.3" textLength="40.0" lengthAdjust="spacingAndGlyphs">CARPETA HIDROFUGA</text>
<text class="s" x="470.0" y="242.8" font-size="4.3" textLength="11.0" lengthAdjust="spacingAndGlyphs">1:3+10%</text>
<text class="s" x="458.0" y="251.5" font-size="4.3" textLength="22.0" lengthAdjust="spacingAndGlyphs">CONTRAPISO</text>
<text class="s" x="432.6" y="256.0" font-size="4.3" textLength="43.4" lengthAdjust="spacingAndGlyphs">MANTO ARENA 10/4:1:1:8</text>
<text class="s" x="432.6" y="259.9" font-size="4.3" textLength="25.4" lengthAdjust="spacingAndGlyphs">espesor 5cm</text>
<text class="s" x="425.0" y="267.1" font-size="4.3" textLength="32.0" lengthAdjust="spacingAndGlyphs">VIGA FUNDACION</text>
<text class="s" x="425.0" y="271.5" font-size="4.3" textLength="26.0" lengthAdjust="spacingAndGlyphs">según cálculo</text>
<text class="s" x="388.7" y="286.5" font-size="4.3" textLength="61.3" lengthAdjust="spacingAndGlyphs">base según cálculo de zapata</text>
<text class="s" x="388.7" y="290.1" font-size="4.3" textLength="67.3" lengthAdjust="spacingAndGlyphs">a criterio de cuenta a realizar por</text>
<text class="s" x="388.7" y="293.7" font-size="4.3" textLength="32.3" lengthAdjust="spacingAndGlyphs">el contratista</text>
<text class="s" x="647.4" y="33.5" font-size="4.3" textLength="17.6" lengthAdjust="spacingAndGlyphs">CUBIERTA</text>
<text class="s" x="647.4" y="37.9" font-size="4.3" textLength="35.6" lengthAdjust="spacingAndGlyphs">chapa HPCP Nº 24</text>
<text class="s" x="647.4" y="42.0" font-size="4.3" textLength="72.6" lengthAdjust="spacingAndGlyphs">tipo "AU-LI" o "TRAFITUBO" a atornillar</text>
<text class="s" x="647.4" y="46.1" font-size="4.3" textLength="47.6" lengthAdjust="spacingAndGlyphs">color verde incorporado</text>
<text class="s" x="647.4" y="50.0" font-size="4.3" textLength="57.6" lengthAdjust="spacingAndGlyphs">sobre estructura metálica</text>
<text class="s" x="647.4" y="53.7" font-size="4.3" textLength="59.6" lengthAdjust="spacingAndGlyphs">de dimensiones según cálculo</text>
<text class="s" x="618.0" y="60.1" font-size="4.1" textLength="20.0" lengthAdjust="spacingAndGlyphs">Accesorio</text>
<text class="s" x="618.0" y="65.0" font-size="4.1" textLength="13.0" lengthAdjust="spacingAndGlyphs">lateral</text>
<text class="s" x="704.8" y="72.5" font-size="4.3" textLength="47.2" lengthAdjust="spacingAndGlyphs">HUECO DE VENTILACION</text>
<text class="s" x="704.8" y="76.7" font-size="4.3" textLength="65.2" lengthAdjust="spacingAndGlyphs">10 x 20cm con tela mosquitera</text>
<text class="r" x="702.4" y="88.8" font-size="4.4" textLength="27.6" lengthAdjust="spacingAndGlyphs">cielorraso</text>
<text class="s" x="614.4" y="93.1" font-size="4.1" textLength="19.6" lengthAdjust="spacingAndGlyphs">Accesorio</text>
<text class="s" x="614.4" y="97.5" font-size="4.1" textLength="39.6" lengthAdjust="spacingAndGlyphs">esquina de aleros</text>
<text class="r" x="630.5" y="104.7" font-size="5.4" textLength="10.0" lengthAdjust="spacingAndGlyphs">0,30</text>
<text class="r" x="657.5" y="107.5" font-size="6" textLength="16.5" lengthAdjust="spacingAndGlyphs">B3979</text>
<text class="s" x="569.0" y="115.5" font-size="4.3" textLength="68.0" lengthAdjust="spacingAndGlyphs">CENEFA Y DOBLADIZAS DE ALEROS</text>
<text class="s" x="569.0" y="119.9" font-size="4.3" textLength="36.0" lengthAdjust="spacingAndGlyphs">chapa HPCP Nº 24</text>
<text class="s" x="569.0" y="124.0" font-size="4.3" textLength="71.0" lengthAdjust="spacingAndGlyphs">tipo "AU-LI" o "TRAFITUBO" a atornillar</text>
<text class="s" x="569.0" y="128.0" font-size="4.3" textLength="53.0" lengthAdjust="spacingAndGlyphs">color verde incorporado</text>
<text class="s" x="569.0" y="132.0" font-size="4.3" textLength="56.0" lengthAdjust="spacingAndGlyphs">sobre estructura metálica</text>
<text class="s" x="569.0" y="136.0" font-size="4.3" textLength="61.0" lengthAdjust="spacingAndGlyphs">de dimensiones según cálculo</text>
<text class="s" x="634.8" y="127.1" font-size="4.3" textLength="46.2" lengthAdjust="spacingAndGlyphs">REJAS DE VENTILACION</text>
<text class="s" x="634.8" y="131.5" font-size="4.3" textLength="65.2" lengthAdjust="spacingAndGlyphs">10 x 20cm con tela mosquitera</text>
<text class="s" x="702.0" y="104.0" font-size="4.3" textLength="44.0" lengthAdjust="spacingAndGlyphs">REFUERZO HORIZONTAL</text>
<text class="s" x="702.0" y="108.0" font-size="4.3" textLength="34.0" lengthAdjust="spacingAndGlyphs">en todos los muros</text>
<text class="s" x="702.0" y="112.0" font-size="4.3" textLength="25.0" lengthAdjust="spacingAndGlyphs">0,15m x 0,15m</text>
<text class="s" x="702.0" y="116.0" font-size="4.3" textLength="55.0" lengthAdjust="spacingAndGlyphs">4Ø10 - estr. 1Ø6 c/0,15m</text>
<text class="s" x="716.4" y="120.5" font-size="4.3" textLength="18.6" lengthAdjust="spacingAndGlyphs">DINTELES</text>
<text class="s" x="716.4" y="124.5" font-size="4.3" textLength="25.6" lengthAdjust="spacingAndGlyphs">0,15m x 0,20m</text>
<text class="s" x="716.4" y="128.5" font-size="4.3" textLength="53.6" lengthAdjust="spacingAndGlyphs">4Ø10 - estr. 1Ø6 c/0,15m</text>
<text class="s" x="716.4" y="138.5" font-size="4.3" textLength="18.6" lengthAdjust="spacingAndGlyphs">RELLENAR</text>
<text class="s" x="716.4" y="142.9" font-size="4.3" textLength="43.6" lengthAdjust="spacingAndGlyphs">Perfiles metálicos con</text>
<text class="s" x="716.4" y="146.7" font-size="4.3" textLength="21.6" lengthAdjust="spacingAndGlyphs">concreto 1:6</text>
<text class="s" x="716.4" y="150.7" font-size="4.3" textLength="38.6" lengthAdjust="spacingAndGlyphs">previo a colocación</text>
<text class="s" x="699.5" y="164.0" font-size="4.3" textLength="47.5" lengthAdjust="spacingAndGlyphs">REFUERZO DE ANTEPECHO</text>
<text class="s" x="699.5" y="168.1" font-size="4.3" textLength="18.5" lengthAdjust="spacingAndGlyphs">2Ø8 en 30</text>
<text class="s" x="604.6" y="169.5" font-size="4.3" textLength="37.4" lengthAdjust="spacingAndGlyphs">REVOQUE EXTERIOR</text>
<text class="s" x="604.6" y="173.5" font-size="4.3" textLength="48.4" lengthAdjust="spacingAndGlyphs">Revoque impermeable 1:3+10%</text>
<text class="s" x="604.6" y="177.5" font-size="4.3" textLength="69.4" lengthAdjust="spacingAndGlyphs">Revoque grueso 1/4:1:3 - peinado</text>
<text class="s" x="604.6" y="181.5" font-size="4.3" textLength="89.4" lengthAdjust="spacingAndGlyphs">Revoque fino 1/8:1:2 - terminado al fieltro</text>
<text class="s" x="699.5" y="179.5" font-size="4.3" textLength="36.5" lengthAdjust="spacingAndGlyphs">REVOQUE INTERIOR</text>
<text class="s" x="699.5" y="183.5" font-size="4.3" textLength="68.5" lengthAdjust="spacingAndGlyphs">Revoque grueso 1/4:1:3 - peinado</text>
<text class="s" x="699.5" y="187.5" font-size="4.3" textLength="90.5" lengthAdjust="spacingAndGlyphs">Revoque fino 1/8:1:2 - terminado al fieltro</text>
<text class="t" x="547.2" y="186.0" textLength="69.0" lengthAdjust="spacingAndGlyphs">DETALLE DE</text>
<text class="t" x="547.2" y="197.2" textLength="89.7" lengthAdjust="spacingAndGlyphs">ALERO LATERAL</text>
<text class="s" x="632.4" y="198.5" font-size="4.3" textLength="32.6" lengthAdjust="spacingAndGlyphs">CAPA AISLADORA</text>
<text class="s" x="632.4" y="202.5" font-size="4.3" textLength="13.6" lengthAdjust="spacingAndGlyphs">1:3+10%</text>
<text class="s" x="632.4" y="206.5" font-size="4.3" textLength="62.6" lengthAdjust="spacingAndGlyphs">pintada con pintura hidrófuga</text>
<text class="s" x="632.4" y="210.5" font-size="4.3" textLength="53.6" lengthAdjust="spacingAndGlyphs">y membrana asfáltica 2mm</text>
<text class="s" x="610.7" y="215.5" font-size="4.3" textLength="38.3" lengthAdjust="spacingAndGlyphs">VEREDA PERIMETRAL</text>
<text class="s" x="610.7" y="219.5" font-size="4.3" textLength="36.3" lengthAdjust="spacingAndGlyphs">granito gris 30x30</text>
<text class="s" x="610.7" y="223.5" font-size="4.3" textLength="29.3" lengthAdjust="spacingAndGlyphs">pulido en obra</text>
<text class="s" x="598.6" y="228.5" font-size="4.3" textLength="15.4" lengthAdjust="spacingAndGlyphs">MORTERO</text>
<text class="s" x="598.6" y="232.5" font-size="4.3" textLength="34.4" lengthAdjust="spacingAndGlyphs">de cal reforzado</text>
<text class="s" x="598.6" y="236.5" font-size="4.3" textLength="11.4" lengthAdjust="spacingAndGlyphs">1:1/4:4</text>
<text class="s" x="589.0" y="243.5" font-size="4.3" textLength="39.0" lengthAdjust="spacingAndGlyphs">CARPETA HIDROFUGA</text>
<text class="s" x="589.0" y="248.0" font-size="4.3" textLength="12.0" lengthAdjust="spacingAndGlyphs">1:3+10%</text>
<text class="s" x="616.7" y="252.5" font-size="4.3" textLength="23.3" lengthAdjust="spacingAndGlyphs">CONTRAPISO</text>
<text class="s" x="616.7" y="256.5" font-size="4.3" textLength="45.3" lengthAdjust="spacingAndGlyphs">10/4:1:1:8 MANTO ARENA</text>
<text class="s" x="637.0" y="260.5" font-size="4.3" textLength="28.0" lengthAdjust="spacingAndGlyphs">espesor 5cm</text>
<text class="s" x="650.5" y="271.0" font-size="4.3" textLength="15.5" lengthAdjust="spacingAndGlyphs">PILOTIN</text>
<text class="s" x="650.5" y="275.5" font-size="4.3" textLength="29.5" lengthAdjust="spacingAndGlyphs">según cálculo</text>
<text class="s" x="702.0" y="210.0" font-size="4.3" textLength="14.0" lengthAdjust="spacingAndGlyphs">ZOCALO</text>
<text class="s" x="702.0" y="214.1" font-size="4.3" textLength="34.0" lengthAdjust="spacingAndGlyphs">cerámico 20x20cm</text>
<text class="s" x="719.3" y="218.0" font-size="4.3" textLength="8.7" lengthAdjust="spacingAndGlyphs">PISO</text>
<text class="s" x="719.3" y="222.5" font-size="4.3" textLength="35.7" lengthAdjust="spacingAndGlyphs">cerámico 20x20cm</text>
<text class="m" x="656.5" y="226.7" font-size="7.6" textLength="23.5" lengthAdjust="spacingAndGlyphs">- 0,05</text>
<text class="m" x="695.0" y="226.2" font-size="7.6" textLength="33.0" lengthAdjust="spacingAndGlyphs">+/- 0,00</text>
<text class="s" x="737.4" y="252.5" font-size="4.3" textLength="22.6" lengthAdjust="spacingAndGlyphs">CONTRAPISO</text>
<text class="s" x="711.6" y="256.5" font-size="4.3" textLength="45.4" lengthAdjust="spacingAndGlyphs">MANTO ARENA 10/4:1:1:8</text>
<text class="s" x="711.6" y="260.5" font-size="4.3" textLength="28.4" lengthAdjust="spacingAndGlyphs">espesor 5cm</text>
<text class="s" x="704.3" y="267.5" font-size="4.3" textLength="32.7" lengthAdjust="spacingAndGlyphs">VIGA FUNDACION</text>
<text class="s" x="704.3" y="272.0" font-size="4.3" textLength="28.7" lengthAdjust="spacingAndGlyphs">según cálculo</text>
<text class="s" x="22.0" y="365.5" font-size="3.5" textLength="53.0" lengthAdjust="spacingAndGlyphs">madera de algarrobo macizo</text>
<text class="s" x="23.4" y="378.9" font-size="3.5" textLength="22.5" lengthAdjust="spacingAndGlyphs">varilla 1/2</text>
<text class="s" x="23.4" y="382.3" font-size="3.5" textLength="35.9" lengthAdjust="spacingAndGlyphs">de marco inferior</text>
<text class="s" x="115.4" y="382.7" font-size="3.5" textLength="21.6" lengthAdjust="spacingAndGlyphs">ancho muro</text>
<text class="s" x="115.4" y="394.6" font-size="3.5" textLength="9.1" lengthAdjust="spacingAndGlyphs">0,025</text>
<text class="s" x="49.0" y="394.9" font-size="3.5" textLength="39.5" lengthAdjust="spacingAndGlyphs">ancho mostrador</text>
<text class="s" x="51.0" y="409.6" font-size="3.5" textLength="25.5" lengthAdjust="spacingAndGlyphs">ancho total</text>
<text class="s" x="90.0" y="404.3" font-size="3.5" textLength="9.0" lengthAdjust="spacingAndGlyphs">0,050</text>
<text class="s" x="97.5" y="389.7" font-size="3.2" textLength="5.5" lengthAdjust="spacingAndGlyphs">25</text>
<text class="s" x="37.6" y="416.3" font-size="3.5" textLength="40.4" lengthAdjust="spacingAndGlyphs">terciado/enchape</text>
<text class="s" x="26.4" y="422.7" font-size="3.5" textLength="21.6" lengthAdjust="spacingAndGlyphs">mostrador de</text>
<text class="s" x="26.4" y="426.8" font-size="3.5" textLength="42.6" lengthAdjust="spacingAndGlyphs">madera de algarrobo</text>
<text class="s" x="26.4" y="430.7" font-size="3.5" textLength="23.2" lengthAdjust="spacingAndGlyphs">esp. 1,5pulg</text>
<text class="t" x="106.4" y="412.2" textLength="69.0" lengthAdjust="spacingAndGlyphs">DETALLE DE</text>
<text class="t" x="106.4" y="423.2" textLength="62.1" lengthAdjust="spacingAndGlyphs">MOSTRADOR</text>
<text class="s" x="200.5" y="384.3" font-size="3.6" textLength="11.0" lengthAdjust="spacingAndGlyphs">2,0000</text>
<text class="s" x="242.0" y="331.9" font-size="3.5" textLength="21.0" lengthAdjust="spacingAndGlyphs">espesor 1"</text>
<text class="s" x="242.4" y="340.5" font-size="4.2" textLength="14.6" lengthAdjust="spacingAndGlyphs">alacena</text>
<text class="s" x="242.4" y="344.5" font-size="4.2" textLength="23.6" lengthAdjust="spacingAndGlyphs">marco 2"x2"</text>
<text class="s" x="242.4" y="348.7" font-size="4.2" textLength="45.6" lengthAdjust="spacingAndGlyphs">hoja bastidor 1,5"x2"</text>
<text class="s" x="242.4" y="353.0" font-size="4.2" textLength="46.6" lengthAdjust="spacingAndGlyphs">tablero algarrobo 1cm</text>
<text class="s" x="214.0" y="351.3" font-size="3.6" textLength="18.0" lengthAdjust="spacingAndGlyphs">0,3500</text>
<text class="s" x="239.0" y="361.3" font-size="3.5" textLength="19.0" lengthAdjust="spacingAndGlyphs">guardajes</text>
<text class="s" x="235.0" y="368.3" font-size="3.5" textLength="13.0" lengthAdjust="spacingAndGlyphs">biscera</text>
<text class="s" x="230.0" y="375.3" font-size="3.5" textLength="17.0" lengthAdjust="spacingAndGlyphs">azulejos</text>
<text class="s" x="213.0" y="377.2" font-size="3.2" textLength="7.5" lengthAdjust="spacingAndGlyphs">0,40</text>
<text class="s" x="229.0" y="388.9" font-size="3.6" textLength="12.0" lengthAdjust="spacingAndGlyphs">0,600</text>
<text class="s" x="230.0" y="395.2" font-size="3.4" textLength="10.0" lengthAdjust="spacingAndGlyphs">bacha</text>
<text class="s" x="230.0" y="398.4" font-size="3.4" textLength="15.0" lengthAdjust="spacingAndGlyphs">acero inox</text>
<text class="s" x="230.0" y="407.3" font-size="3.6" textLength="13.0" lengthAdjust="spacingAndGlyphs">0,5700</text>
<text class="s" x="213.0" y="406.7" font-size="3.2" textLength="8.0" lengthAdjust="spacingAndGlyphs">0,75</text>
<text class="s" x="231.0" y="413.0" font-size="3.2" textLength="12.0" lengthAdjust="spacingAndGlyphs">estante</text>
<text class="s" x="228.0" y="417.8" font-size="3.2" textLength="18.0" lengthAdjust="spacingAndGlyphs">zocalo 0,10</text>
<text class="s" x="231.0" y="423.2" font-size="3.2" textLength="13.0" lengthAdjust="spacingAndGlyphs">0,0500</text>
<text class="s" x="256.5" y="381.5" font-size="4.2" textLength="43.5" lengthAdjust="spacingAndGlyphs">mesada granito nacion</text>
<text class="s" x="256.5" y="386.0" font-size="4.2" textLength="19.5" lengthAdjust="spacingAndGlyphs">esp. 2,5cm</text>
<text class="s" x="254.0" y="400.5" font-size="4.2" textLength="29.0" lengthAdjust="spacingAndGlyphs">mueble madera</text>
<text class="s" x="254.0" y="404.5" font-size="4.2" textLength="21.0" lengthAdjust="spacingAndGlyphs">marco 2"x2"</text>
<text class="s" x="254.0" y="408.5" font-size="4.2" textLength="44.0" lengthAdjust="spacingAndGlyphs">hoja bastidor 1,5"x2"</text>
<text class="s" x="254.0" y="412.7" font-size="4.2" textLength="47.0" lengthAdjust="spacingAndGlyphs">tablero algarrobo 1cm</text>
<text class="s" x="257.0" y="420.0" font-size="4.2" textLength="54.0" lengthAdjust="spacingAndGlyphs">tapa y zócalos granito gris</text>
<text class="s" x="257.0" y="424.1" font-size="4.2" textLength="43.0" lengthAdjust="spacingAndGlyphs">natural pulido en obra</text>
<text class="s" x="209.4" y="437.3" font-size="3.5" textLength="9.6" lengthAdjust="spacingAndGlyphs">0,100</text>
<text class="t" x="211.0" y="451.8" textLength="69.0" lengthAdjust="spacingAndGlyphs">DETALLE DE</text>
<text class="t" x="211.0" y="463.8" textLength="124.2" lengthAdjust="spacingAndGlyphs">MUEBLE BAJO MESADA</text>
<text class="t" x="386.7" y="332.5" textLength="103.5" lengthAdjust="spacingAndGlyphs">DETALLES VARIOS</text>
<text class="s" x="364.8" y="376.8" font-size="4.2" textLength="33.2" lengthAdjust="spacingAndGlyphs">chapa HPCP Nº 24</text>
<text class="s" x="364.8" y="380.6" font-size="4.2" textLength="72.2" lengthAdjust="spacingAndGlyphs">tipo "AU-LI" o "TRAFITUBO" a atornillar</text>
<text class="s" x="364.8" y="384.5" font-size="4.2" textLength="47.2" lengthAdjust="spacingAndGlyphs">color verde incorporado</text>
<text class="s" x="364.8" y="388.3" font-size="4.2" textLength="48.2" lengthAdjust="spacingAndGlyphs">sobre estructura metálica</text>
<text class="s" x="364.8" y="392.1" font-size="4.2" textLength="59.2" lengthAdjust="spacingAndGlyphs">de dimensiones según cálculo</text>
<text class="s" x="338.7" y="423.1" font-size="4.2" textLength="19.3" lengthAdjust="spacingAndGlyphs">ACCESORIO</text>
<text class="s" x="338.7" y="427.1" font-size="4.2" textLength="15.3" lengthAdjust="spacingAndGlyphs">goterón</text>
<text class="s" x="433.6" y="409.5" font-size="4.2" textLength="19.4" lengthAdjust="spacingAndGlyphs">ACCESORIO</text>
<text class="s" x="433.6" y="414.0" font-size="4.2" textLength="18.4" lengthAdjust="spacingAndGlyphs">esquinero</text>
<text class="s" x="398.0" y="427.0" font-size="4.2" textLength="22.0" lengthAdjust="spacingAndGlyphs">ESTRUCTURA</text>
<text class="s" x="398.0" y="431.5" font-size="4.2" textLength="36.0" lengthAdjust="spacingAndGlyphs">perfilería metálica</text>
<text class="s" x="398.0" y="435.7" font-size="4.2" textLength="52.0" lengthAdjust="spacingAndGlyphs">dimensiones según cálculo</text>
<text class="t" x="396.0" y="453.8" textLength="110.4" lengthAdjust="spacingAndGlyphs">DETALLE DE ALERO</text>
<text class="s" x="442.4" y="373.8" font-size="4.2" textLength="35.6" lengthAdjust="spacingAndGlyphs">chapa HPCP Nº 24</text>
<text class="s" x="442.4" y="377.6" font-size="4.2" textLength="71.6" lengthAdjust="spacingAndGlyphs">tipo "AU-LI" o "TRAFITUBO" a atornillar</text>
<text class="s" x="442.4" y="381.5" font-size="4.2" textLength="47.6" lengthAdjust="spacingAndGlyphs">color verde incorporado</text>
<text class="s" x="442.4" y="385.5" font-size="4.2" textLength="54.6" lengthAdjust="spacingAndGlyphs">sobre estructura metálica</text>
<text class="s" x="442.4" y="389.5" font-size="4.2" textLength="57.6" lengthAdjust="spacingAndGlyphs">de dimensiones según cálculo</text>
<text class="s" x="523.4" y="389.0" font-size="4.2" textLength="19.6" lengthAdjust="spacingAndGlyphs">ACCESORIO</text>
<text class="s" x="523.4" y="393.5" font-size="4.2" textLength="30.6" lengthAdjust="spacingAndGlyphs">babeta frontal</text>
<text class="s" x="524.6" y="423.5" font-size="4.2" textLength="22.4" lengthAdjust="spacingAndGlyphs">ESTRUCTURA</text>
<text class="s" x="524.6" y="428.0" font-size="4.2" textLength="35.4" lengthAdjust="spacingAndGlyphs">perfilería metálica</text>
<text class="s" x="524.6" y="432.5" font-size="4.2" textLength="52.4" lengthAdjust="spacingAndGlyphs">dimensiones según cálculo</text>
<text class="r" x="458.0" y="408.5" font-size="5.2" textLength="15.7" lengthAdjust="spacingAndGlyphs">+ 2,80</text>
<text class="r" x="458.8" y="423.4" font-size="5.2" textLength="9.7" lengthAdjust="spacingAndGlyphs">0,40</text>
<text class="r" x="481.6" y="401.2" font-size="4.6" textLength="14.1" lengthAdjust="spacingAndGlyphs">0,65/2,4</text>
<text class="s" x="451.0" y="430.9" font-size="4.2" textLength="19.0" lengthAdjust="spacingAndGlyphs">ACCESORIO</text>
<text class="s" x="451.0" y="436.0" font-size="4.2" textLength="14.0" lengthAdjust="spacingAndGlyphs">goterón</text>
<text class="s" x="483.4" y="431.7" font-size="4.2" textLength="17.6" lengthAdjust="spacingAndGlyphs">D.70/30</text>
<text class="s" x="480.8" y="435.1" font-size="4.2" textLength="27.2" lengthAdjust="spacingAndGlyphs">al espesor 2</text>
<text class="s" x="631.0" y="324.6" font-size="4.4" textLength="69.0" lengthAdjust="spacingAndGlyphs">grifería bronce platil mezcladora</text>
<text class="s" x="631.0" y="329.0" font-size="4.4" textLength="60.0" lengthAdjust="spacingAndGlyphs">en COCINA con ducha flexible</text>
<text class="s" x="631.0" y="333.0" font-size="4.4" textLength="59.0" lengthAdjust="spacingAndGlyphs">protegida con malla metálica</text>
<text class="s" x="631.0" y="337.1" font-size="4.4" textLength="56.0" lengthAdjust="spacingAndGlyphs">en LAVADERO con pico móvil</text>
<text class="s" x="595.0" y="360.9" font-size="3.8" textLength="10.0" lengthAdjust="spacingAndGlyphs">0,070</text>
<text class="s" x="624.5" y="360.2" font-size="3.4" textLength="11.5" lengthAdjust="spacingAndGlyphs">0,600</text>
<text class="s" x="657.0" y="343.9" font-size="4.2" textLength="28.0" lengthAdjust="spacingAndGlyphs">revestimiento</text>
<text class="s" x="657.0" y="348.0" font-size="4.2" textLength="42.0" lengthAdjust="spacingAndGlyphs">  interior y exterior</text>
<text class="s" x="657.0" y="352.2" font-size="4.2" textLength="29.0" lengthAdjust="spacingAndGlyphs">azulejos 15x15</text>
<text class="s" x="658.8" y="361.9" font-size="3.8" textLength="9.2" lengthAdjust="spacingAndGlyphs">0,100</text>
<text class="s" x="656.0" y="374.3" font-size="3.6" textLength="8.0" lengthAdjust="spacingAndGlyphs">0,20</text>
<text class="s" x="655.0" y="379.9" font-size="3.8" textLength="9.5" lengthAdjust="spacingAndGlyphs">0,760</text>
<text class="s" x="666.4" y="370.2" font-size="4.2" textLength="33.6" lengthAdjust="spacingAndGlyphs">hormigón armado</text>
<text class="s" x="666.4" y="374.5" font-size="4.2" textLength="29.6" lengthAdjust="spacingAndGlyphs">300 cada 0,10m</text>
<text class="s" x="631.0" y="389.0" font-size="3.8" textLength="9.5" lengthAdjust="spacingAndGlyphs">0,600</text>
<text class="s" x="631.0" y="403.4" font-size="3.8" textLength="9.0" lengthAdjust="spacingAndGlyphs">0,90</text>
<text class="s" x="765.5" y="387.9" font-size="3.8" textLength="9.5" lengthAdjust="spacingAndGlyphs">0,700</text>
<text class="s" x="716.6" y="378.4" font-size="3.8" textLength="9.9" lengthAdjust="spacingAndGlyphs">1,620</text>
<text class="s" x="728.6" y="411.1" font-size="3.8" textLength="11.9" lengthAdjust="spacingAndGlyphs">1,800</text>
<text class="s" x="766.0" y="356.5" font-size="4.2" textLength="41.0" lengthAdjust="spacingAndGlyphs">2 bloqueros de losa</text>
<text class="s" x="766.0" y="360.7" font-size="4.2" textLength="21.0" lengthAdjust="spacingAndGlyphs">de granito</text>
<text class="t" x="621.7" y="425.1" textLength="243.2" lengthAdjust="spacingAndGlyphs">DETALLE PILETONES COCINA Y LAVADERO</text>
<text class="s" x="123.0" y="503.1" font-size="4.4" textLength="30.0" lengthAdjust="spacingAndGlyphs">caño Ø 1,5pulg.</text>
<text class="s" x="120.0" y="509.5" font-size="4.2" textLength="13.0" lengthAdjust="spacingAndGlyphs">LARGO</text>
<text class="s" x="120.0" y="514.0" font-size="4.2" textLength="15.0" lengthAdjust="spacingAndGlyphs">0,4000</text>
<text class="s" x="112.0" y="525.1" font-size="4.4" textLength="46.0" lengthAdjust="spacingAndGlyphs">PREVEER Y COLOCAR DOS</text>
<text class="s" x="112.0" y="530.1" font-size="4.4" textLength="61.0" lengthAdjust="spacingAndGlyphs">A AMBOS LADOS DE LA PUERTA</text>
<text class="t" x="84.0" y="543.7" textLength="69.0" lengthAdjust="spacingAndGlyphs">DETALLE DE</text>
<text class="t" x="84.0" y="554.5" textLength="82.8" lengthAdjust="spacingAndGlyphs">PORTABANDERA</text>
<text class="s" x="253.3" y="518.8" font-size="4.2" textLength="29.2" lengthAdjust="spacingAndGlyphs">altura de piso</text>
<text class="s" x="270.0" y="522.5" font-size="4.2" textLength="12.5" lengthAdjust="spacingAndGlyphs">+ 0,80m</text>
<text class="s" x="296.0" y="515.1" font-size="3.8" textLength="11.0" lengthAdjust="spacingAndGlyphs">0,7000</text>
<text class="s" x="300.3" y="521.7" font-size="3.8" textLength="11.7" lengthAdjust="spacingAndGlyphs">0,3000</text>
<text class="s" x="305.9" y="528.0" font-size="4.0" textLength="21.1" lengthAdjust="spacingAndGlyphs">revestimiento</text>
<text class="s" x="247.8" y="550.8" font-size="4.2" textLength="48.2" lengthAdjust="spacingAndGlyphs">3 ménsulas PNL 90x50x5</text>
<text class="s" x="241.8" y="554.4" font-size="4.2" textLength="54.2" lengthAdjust="spacingAndGlyphs">c/grampa amure 3/4" x 8"</text>
<text class="s" x="305.8" y="555.7" font-size="4.2" textLength="14.2" lengthAdjust="spacingAndGlyphs">cuerda</text>
<text class="s" x="305.8" y="559.5" font-size="4.2" textLength="24.2" lengthAdjust="spacingAndGlyphs">3/4 x 6pulg</text>
<text class="s" x="328.7" y="528.4" font-size="3.8" textLength="11.3" lengthAdjust="spacingAndGlyphs">0,075</text>
<text class="s" x="375.0" y="513.3" font-size="3.8" textLength="9.5" lengthAdjust="spacingAndGlyphs">1,600</text>
<text class="s" x="352.0" y="524.0" font-size="3.8" textLength="8.5" lengthAdjust="spacingAndGlyphs">0,470</text>
<text class="s" x="363.6" y="533.2" font-size="3.8" textLength="8.9" lengthAdjust="spacingAndGlyphs">0,600</text>
<text class="s" x="384.0" y="533.2" font-size="3.8" textLength="9.5" lengthAdjust="spacingAndGlyphs">0,450</text>
<text class="s" x="415.6" y="503.0" font-size="4.2" textLength="39.4" lengthAdjust="spacingAndGlyphs">2 bloqueros de losa</text>
<text class="s" x="415.6" y="506.7" font-size="4.2" textLength="19.4" lengthAdjust="spacingAndGlyphs">de granito</text>
<text class="t" x="333.0" y="583.7" textLength="144.9" lengthAdjust="spacingAndGlyphs">DETALLE PILETON AULAS</text>
<text class="s" x="457.0" y="508.0" font-size="4.2" textLength="45.0" lengthAdjust="spacingAndGlyphs">grifería bronce platil</text>
<text class="s" x="457.0" y="512.5" font-size="4.2" textLength="23.0" lengthAdjust="spacingAndGlyphs">mezcladora</text>
<text class="s" x="471.7" y="522.5" font-size="4.2" textLength="69.3" lengthAdjust="spacingAndGlyphs">revestimiento interior y exterior</text>
<text class="s" x="471.7" y="527.0" font-size="4.2" textLength="30.3" lengthAdjust="spacingAndGlyphs">azulejos 15x15</text>
<text class="s" x="449.0" y="525.9" font-size="3.8" textLength="10.5" lengthAdjust="spacingAndGlyphs">0,4000</text>
<text class="s" x="421.0" y="535.4" font-size="3.8" textLength="9.5" lengthAdjust="spacingAndGlyphs">0,070</text>
<text class="s" x="450.0" y="542.7" font-size="3.4" textLength="8.0" lengthAdjust="spacingAndGlyphs">0,50</text>
<text class="s" x="481.0" y="537.5" font-size="4.2" textLength="33.0" lengthAdjust="spacingAndGlyphs">hormigón armado</text>
<text class="s" x="481.0" y="541.7" font-size="4.2" textLength="29.0" lengthAdjust="spacingAndGlyphs">10x cada 0,10m</text>
<text class="s" x="469.0" y="534.4" font-size="3.8" textLength="21.0" lengthAdjust="spacingAndGlyphs">0,60 0,10</text>
<text class="s" x="429.4" y="556.4" font-size="3.8" textLength="9.1" lengthAdjust="spacingAndGlyphs">0,600</text>
<text class="s" x="444.5" y="561.4" font-size="3.8" textLength="8.0" lengthAdjust="spacingAndGlyphs">0,90</text>
<text class="s" font-size="3.8" transform="translate(45.5,408) rotate(-90)" textLength="13" lengthAdjust="spacingAndGlyphs">0,150</text>
<text class="s" font-size="3.6" transform="translate(83.3,408) rotate(-90)" textLength="11" lengthAdjust="spacingAndGlyphs">0,025</text>
<text class="t" x="386.7" y="344.2" textLength="61.5" lengthAdjust="spacingAndGlyphs">escala 1:10</text>
</g>
</svg>
</body></html>
